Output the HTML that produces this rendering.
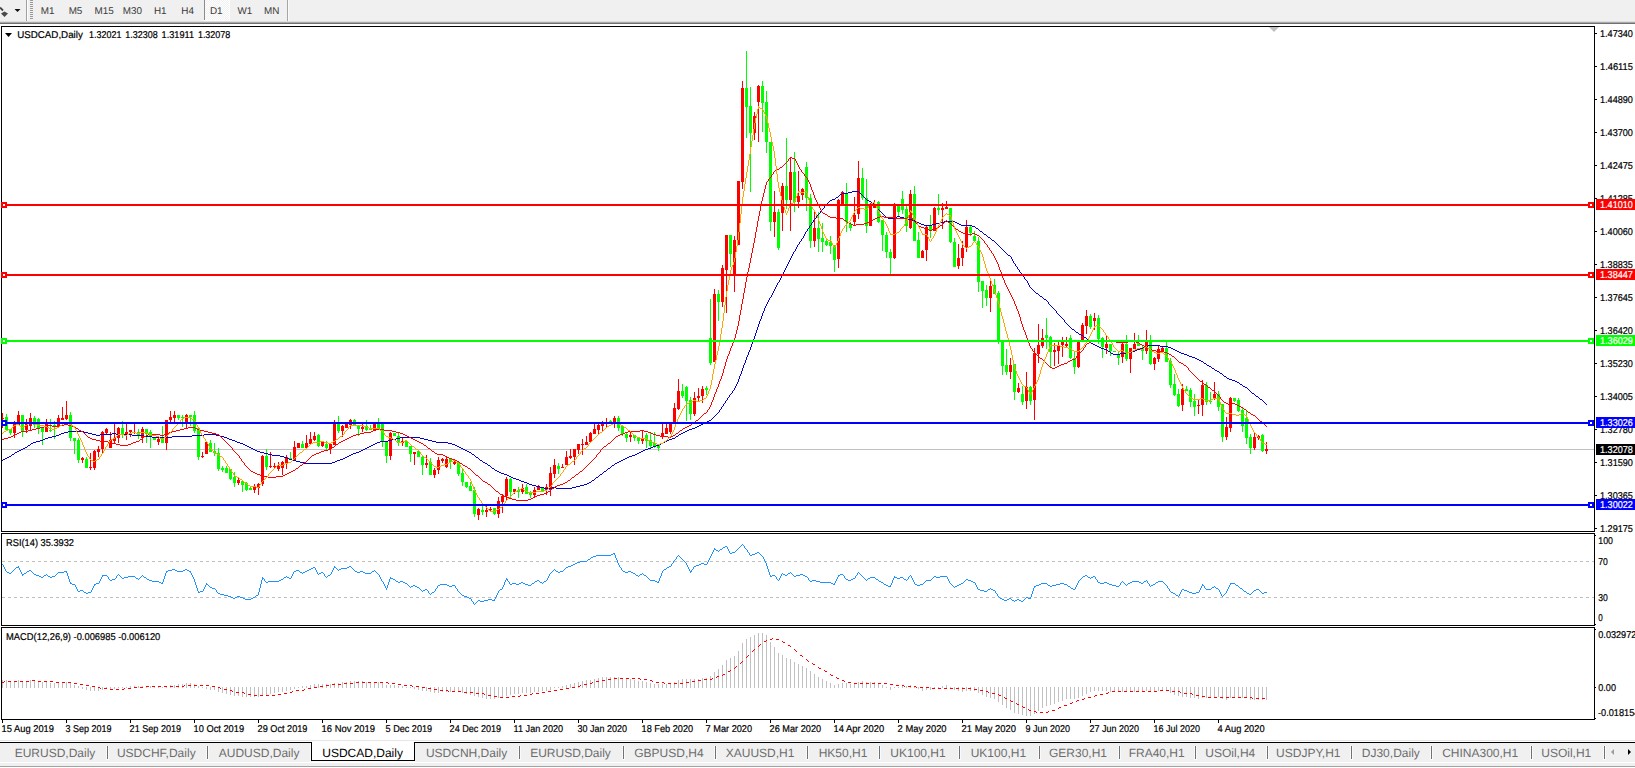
<!DOCTYPE html>
<html lang="en"><head><meta charset="utf-8"><title>USDCAD,Daily</title>
<style>html,body{margin:0;padding:0;background:#fff;overflow:hidden}svg text{white-space:pre}</style></head>
<body>
<svg width="1635" height="768" viewBox="0 0 1635 768" font-family="'Liberation Sans', sans-serif" text-rendering="geometricPrecision" style="display:block">
<rect x="0" y="0" width="1635" height="768" fill="#fff" />
<rect x="0" y="0" width="1635" height="22" fill="#f0f0f0" />
<rect x="0" y="21" width="1635" height="1" fill="#dedede" />
<rect x="0" y="22" width="1635" height="1" fill="#a8a8a8" />
<rect x="0" y="23" width="1635" height="1" fill="#707070" />
<path d="M0 7.5 L3 10.5" stroke="#444" stroke-width="1.8" fill="none"/>
<path d="M1 13.5 L4.5 11.5 L8 13.5 L4.5 17 Z" fill="#4a4a4a"/>
<path d="M14.5 9 L20.5 9 L17.5 12 Z" fill="#111"/>
<rect x="26" y="0" width="1" height="21" fill="#a0a0a0" />
<rect x="27" y="0" width="1" height="21" fill="#fdfdfd" />
<rect x="30" y="0" width="3" height="1" fill="#9a9a9a" />
<rect x="30" y="2" width="3" height="1" fill="#9a9a9a" />
<rect x="30" y="4" width="3" height="1" fill="#9a9a9a" />
<rect x="30" y="6" width="3" height="1" fill="#9a9a9a" />
<rect x="30" y="8" width="3" height="1" fill="#9a9a9a" />
<rect x="30" y="10" width="3" height="1" fill="#9a9a9a" />
<rect x="30" y="12" width="3" height="1" fill="#9a9a9a" />
<rect x="30" y="14" width="3" height="1" fill="#9a9a9a" />
<rect x="30" y="16" width="3" height="1" fill="#9a9a9a" />
<rect x="30" y="18" width="3" height="1" fill="#9a9a9a" />
<defs><pattern id="chk" width="2" height="2" patternUnits="userSpaceOnUse"><rect width="2" height="2" fill="#f0f0f0"/><rect width="1" height="1" fill="#fff"/><rect x="1" y="1" width="1" height="1" fill="#fff"/></pattern></defs>
<rect x="205" y="0" width="24" height="20" fill="url(#chk)" />
<rect x="204" y="0" width="1" height="20" fill="#8c8c8c" />
<rect x="229" y="0" width="1" height="21" fill="#fcfcfc" />
<rect x="204" y="20" width="26" height="1" fill="#fcfcfc" />
<rect x="287" y="0" width="1" height="21" fill="#a6a6a6" />
<rect x="288" y="0" width="1" height="21" fill="#fafafa" />
<text x="47.7" y="13.9" font-size="9.9" fill="#3a3a3a" text-anchor="middle" >M1</text>
<text x="75.5" y="13.9" font-size="9.9" fill="#3a3a3a" text-anchor="middle" >M5</text>
<text x="104.1" y="13.9" font-size="9.9" fill="#3a3a3a" text-anchor="middle" >M15</text>
<text x="132.3" y="13.9" font-size="9.9" fill="#3a3a3a" text-anchor="middle" >M30</text>
<text x="160.3" y="13.9" font-size="9.9" fill="#3a3a3a" text-anchor="middle" >H1</text>
<text x="187.6" y="13.9" font-size="9.9" fill="#3a3a3a" text-anchor="middle" >H4</text>
<text x="216.2" y="13.9" font-size="9.9" fill="#3a3a3a" text-anchor="middle" >D1</text>
<text x="244.8" y="13.9" font-size="9.9" fill="#3a3a3a" text-anchor="middle" >W1</text>
<text x="271.7" y="13.9" font-size="9.9" fill="#3a3a3a" text-anchor="middle" >MN</text>
<rect x="1" y="26" width="1594" height="1" fill="#000" />
<rect x="1" y="531" width="1594" height="1" fill="#000" />
<rect x="1" y="26" width="1" height="506" fill="#000" />
<rect x="1594" y="26" width="1" height="506" fill="#000" />
<rect x="1" y="533" width="1594" height="1" fill="#000" />
<rect x="1" y="625" width="1594" height="1" fill="#000" />
<rect x="1" y="533" width="1" height="93" fill="#000" />
<rect x="1594" y="533" width="1" height="93" fill="#000" />
<rect x="1" y="627" width="1594" height="1" fill="#000" />
<rect x="1" y="719" width="1594" height="1" fill="#000" />
<rect x="1" y="627" width="1" height="93" fill="#000" />
<rect x="1594" y="627" width="1" height="93" fill="#000" />
<path d="M1269 27 L1279 27 L1274 32 Z" fill="#c0c0c0"/>
<rect x="1595" y="33" width="2" height="1" fill="#000" />
<text x="1600" y="37" font-size="9.9" fill="#000" stroke="#000" stroke-width="0.2" textLength="32.94" lengthAdjust="spacingAndGlyphs">1.47340</text>
<rect x="1595" y="66" width="2" height="1" fill="#000" />
<text x="1600" y="70" font-size="9.9" fill="#000" stroke="#000" stroke-width="0.2" textLength="32.94" lengthAdjust="spacingAndGlyphs">1.46115</text>
<rect x="1595" y="99" width="2" height="1" fill="#000" />
<text x="1600" y="103" font-size="9.9" fill="#000" stroke="#000" stroke-width="0.2" textLength="32.94" lengthAdjust="spacingAndGlyphs">1.44890</text>
<rect x="1595" y="132" width="2" height="1" fill="#000" />
<text x="1600" y="136" font-size="9.9" fill="#000" stroke="#000" stroke-width="0.2" textLength="32.94" lengthAdjust="spacingAndGlyphs">1.43700</text>
<rect x="1595" y="165" width="2" height="1" fill="#000" />
<text x="1600" y="169" font-size="9.9" fill="#000" stroke="#000" stroke-width="0.2" textLength="32.94" lengthAdjust="spacingAndGlyphs">1.42475</text>
<rect x="1595" y="198" width="2" height="1" fill="#000" />
<text x="1600" y="202" font-size="9.9" fill="#000" stroke="#000" stroke-width="0.2" textLength="32.94" lengthAdjust="spacingAndGlyphs">1.41285</text>
<rect x="1595" y="231" width="2" height="1" fill="#000" />
<text x="1600" y="235" font-size="9.9" fill="#000" stroke="#000" stroke-width="0.2" textLength="32.94" lengthAdjust="spacingAndGlyphs">1.40060</text>
<rect x="1595" y="264" width="2" height="1" fill="#000" />
<text x="1600" y="268" font-size="9.9" fill="#000" stroke="#000" stroke-width="0.2" textLength="32.94" lengthAdjust="spacingAndGlyphs">1.38835</text>
<rect x="1595" y="297" width="2" height="1" fill="#000" />
<text x="1600" y="301" font-size="9.9" fill="#000" stroke="#000" stroke-width="0.2" textLength="32.94" lengthAdjust="spacingAndGlyphs">1.37645</text>
<rect x="1595" y="330" width="2" height="1" fill="#000" />
<text x="1600" y="334" font-size="9.9" fill="#000" stroke="#000" stroke-width="0.2" textLength="32.94" lengthAdjust="spacingAndGlyphs">1.36420</text>
<rect x="1595" y="363" width="2" height="1" fill="#000" />
<text x="1600" y="367" font-size="9.9" fill="#000" stroke="#000" stroke-width="0.2" textLength="32.94" lengthAdjust="spacingAndGlyphs">1.35230</text>
<rect x="1595" y="396" width="2" height="1" fill="#000" />
<text x="1600" y="400" font-size="9.9" fill="#000" stroke="#000" stroke-width="0.2" textLength="32.94" lengthAdjust="spacingAndGlyphs">1.34005</text>
<rect x="1595" y="429" width="2" height="1" fill="#000" />
<text x="1600" y="433" font-size="9.9" fill="#000" stroke="#000" stroke-width="0.2" textLength="32.94" lengthAdjust="spacingAndGlyphs">1.32780</text>
<rect x="1595" y="462" width="2" height="1" fill="#000" />
<text x="1600" y="466" font-size="9.9" fill="#000" stroke="#000" stroke-width="0.2" textLength="32.94" lengthAdjust="spacingAndGlyphs">1.31590</text>
<rect x="1595" y="495" width="2" height="1" fill="#000" />
<text x="1600" y="499" font-size="9.9" fill="#000" stroke="#000" stroke-width="0.2" textLength="32.94" lengthAdjust="spacingAndGlyphs">1.30365</text>
<rect x="1595" y="528" width="2" height="1" fill="#000" />
<text x="1600" y="532" font-size="9.9" fill="#000" stroke="#000" stroke-width="0.2" textLength="32.94" lengthAdjust="spacingAndGlyphs">1.29175</text>
<text x="1598.3" y="543.7" font-size="9.9" fill="#000" stroke="#000" stroke-width="0.2" textLength="14.67" lengthAdjust="spacingAndGlyphs">100</text>
<text x="1598.3" y="565" font-size="9.9" fill="#000" stroke="#000" stroke-width="0.2" textLength="9.58" lengthAdjust="spacingAndGlyphs">70</text>
<text x="1598.3" y="600.7" font-size="9.9" fill="#000" stroke="#000" stroke-width="0.2" textLength="9.58" lengthAdjust="spacingAndGlyphs">30</text>
<text x="1598.3" y="621" font-size="9.9" fill="#000" stroke="#000" stroke-width="0.2" textLength="4.49" lengthAdjust="spacingAndGlyphs">0</text>
<rect x="1595" y="535" width="1" height="1" fill="#000" />
<rect x="1595" y="624" width="1" height="1" fill="#000" />
<rect x="1595" y="629" width="1" height="1" fill="#000" />
<rect x="1595" y="687" width="1" height="1" fill="#000" />
<rect x="1595" y="718" width="1" height="1" fill="#000" />
<text x="1598.3" y="637.8" font-size="9.9" fill="#000" stroke="#000" stroke-width="0.2" textLength="38.029999999999994" lengthAdjust="spacingAndGlyphs">0.032972</text>
<text x="1598.3" y="690.6" font-size="9.9" fill="#000" stroke="#000" stroke-width="0.2" textLength="17.669999999999998" lengthAdjust="spacingAndGlyphs">0.00</text>
<text x="1598" y="715.8" font-size="9.9" fill="#000" stroke="#000" stroke-width="0.2" textLength="41.43" lengthAdjust="spacingAndGlyphs">-0.018154</text>
<g shape-rendering="crispEdges">
<rect x="2" y="449" width="1592" height="1" fill="#c0c0c0" />
<path fill="#00ff00" d="M6 414h1v16h-1z M5 417h3v13h-3z M10 429h1v6h-1z M9 429h3v4h-3z M22 415h1v22h-1z M21 415h3v16h-3z M34 416h1v12h-1z M33 418h3v7h-3z M38 418h1v16h-1z M37 419h3v9h-3z M42 427h1v18h-1z M41 427h3v5h-3z M50 419h1v13h-1z M49 430h3v1h-3z M54 421h1v18h-1z M53 425h3v2h-3z M70 412h1v29h-1z M69 415h3v23h-3z M74 438h1v16h-1z M73 438h3v3h-3z M78 438h1v25h-1z M77 440h3v20h-3z M86 457h1v11h-1z M85 459h3v9h-3z M122 421h1v17h-1z M121 428h3v7h-3z M138 429h1v10h-1z M137 432h3v4h-3z M146 429h1v14h-1z M145 429h3v5h-3z M150 430h1v18h-1z M149 432h3v5h-3z M154 437h1v3h-1z M153 437h3v3h-3z M162 426h1v17h-1z M161 439h3v4h-3z M178 415h1v5h-1z M177 415h3v3h-3z M182 415h1v12h-1z M181 417h3v1h-3z M190 415h1v11h-1z M189 415h3v2h-3z M194 411h1v22h-1z M193 415h3v16h-3z M198 428h1v32h-1z M197 428h3v29h-3z M210 440h1v12h-1z M209 443h3v9h-3z M214 443h1v13h-1z M213 451h3v2h-3z M218 448h1v23h-1z M217 453h3v16h-3z M222 466h1v6h-1z M221 468h3v2h-3z M226 466h1v7h-1z M225 468h3v5h-3z M230 469h1v11h-1z M229 469h3v10h-3z M234 472h1v15h-1z M233 477h3v6h-3z M242 480h1v12h-1z M241 481h3v4h-3z M246 482h1v9h-1z M245 483h3v7h-3z M250 486h1v4h-1z M249 488h3v2h-3z M266 449h1v21h-1z M265 456h3v11h-3z M290 452h1v8h-1z M289 458h3v2h-3z M302 441h1v7h-1z M301 444h3v4h-3z M318 434h1v13h-1z M317 435h3v11h-3z M326 441h1v9h-1z M325 444h3v4h-3z M338 416h1v17h-1z M337 424h3v7h-3z M354 419h1v7h-1z M353 420h3v6h-3z M358 426h1v10h-1z M357 426h3v3h-3z M366 420h1v11h-1z M365 426h3v4h-3z M370 425h1v5h-1z M369 428h3v2h-3z M378 418h1v11h-1z M377 424h3v5h-3z M382 424h1v23h-1z M381 424h3v17h-3z M386 441h1v22h-1z M385 441h3v15h-3z M394 433h1v3h-1z M393 433h3v3h-3z M398 433h1v13h-1z M397 436h3v7h-3z M406 441h1v6h-1z M405 441h3v6h-3z M410 446h1v16h-1z M409 446h3v8h-3z M418 451h1v6h-1z M417 451h3v6h-3z M422 455h1v20h-1z M421 457h3v8h-3z M430 458h1v17h-1z M429 462h3v13h-3z M450 459h1v10h-1z M449 459h3v3h-3z M458 462h1v14h-1z M457 462h3v12h-3z M462 469h1v17h-1z M461 473h3v9h-3z M466 482h1v6h-1z M465 482h3v5h-3z M470 482h1v9h-1z M469 486h3v5h-3z M474 487h1v30h-1z M473 490h3v24h-3z M482 504h1v11h-1z M481 510h3v2h-3z M494 508h1v7h-1z M493 508h3v6h-3z M510 478h1v20h-1z M509 479h3v13h-3z M518 487h1v11h-1z M517 490h3v2h-3z M526 484h1v10h-1z M525 487h3v7h-3z M530 491h1v7h-1z M529 493h3v2h-3z M542 487h1v4h-1z M541 488h3v3h-3z M558 463h1v11h-1z M557 466h3v3h-3z M610 420h1v4h-1z M609 421h3v2h-3z M618 416h1v15h-1z M617 418h3v10h-3z M622 426h1v10h-1z M621 426h3v8h-3z M626 432h1v10h-1z M625 434h3v4h-3z M634 435h1v6h-1z M633 435h3v3h-3z M638 438h1v6h-1z M637 438h3v3h-3z M646 433h1v15h-1z M645 435h3v6h-3z M650 433h1v16h-1z M649 440h3v6h-3z M654 432h1v16h-1z M653 443h3v3h-3z M658 445h1v6h-1z M657 445h3v3h-3z M682 384h1v14h-1z M681 391h3v5h-3z M686 386h1v35h-1z M685 387h3v14h-3z M690 397h1v23h-1z M689 400h3v14h-3z M706 386h1v9h-1z M705 388h3v2h-3z M710 299h1v66h-1z M709 338h3v25h-3z M718 290h1v31h-1z M717 294h3v8h-3z M730 235h1v32h-1z M729 235h3v19h-3z M746 51h1v87h-1z M745 88h3v19h-3z M750 87h1v105h-1z M749 106h3v27h-3z M762 81h1v51h-1z M761 86h3v17h-3z M766 91h1v62h-1z M765 102h3v40h-3z M770 142h1v89h-1z M769 142h3v80h-3z M778 209h1v41h-1z M777 212h3v36h-3z M786 138h1v71h-1z M785 186h3v14h-3z M794 152h1v60h-1z M793 172h3v30h-3z M806 162h1v49h-1z M805 167h3v31h-3z M810 194h1v54h-1z M809 198h3v43h-3z M818 212h1v40h-1z M817 228h3v11h-3z M822 223h1v29h-1z M821 238h3v4h-3z M826 240h1v6h-1z M825 241h3v4h-3z M830 236h1v18h-1z M829 242h3v4h-3z M834 245h1v27h-1z M833 245h3v15h-3z M846 183h1v49h-1z M845 193h3v29h-3z M850 222h1v9h-1z M849 224h3v4h-3z M862 168h1v32h-1z M861 178h3v20h-3z M866 179h1v54h-1z M865 198h3v28h-3z M878 201h1v22h-1z M877 202h3v20h-3z M882 220h1v31h-1z M881 220h3v15h-3z M886 232h1v26h-1z M885 235h3v17h-3z M890 249h1v25h-1z M889 252h3v6h-3z M898 206h1v11h-1z M897 206h3v6h-3z M902 191h1v23h-1z M901 199h3v11h-3z M906 206h1v26h-1z M905 209h3v17h-3z M914 186h1v55h-1z M913 194h3v47h-3z M918 232h1v26h-1z M917 240h3v18h-3z M930 215h1v23h-1z M929 225h3v5h-3z M938 194h1v21h-1z M937 208h3v2h-3z M950 208h1v35h-1z M949 208h3v34h-3z M954 238h1v29h-1z M953 242h3v25h-3z M970 226h1v10h-1z M969 227h3v6h-3z M974 231h1v11h-1z M973 236h3v5h-3z M978 237h1v55h-1z M977 241h3v41h-3z M982 281h1v27h-1z M981 281h3v10h-3z M986 285h1v21h-1z M985 290h3v8h-3z M994 279h1v15h-1z M993 285h3v9h-3z M998 291h1v53h-1z M997 293h3v47h-3z M1002 340h1v35h-1z M1001 340h3v26h-3z M1006 349h1v26h-1z M1005 365h3v7h-3z M1014 364h1v36h-1z M1013 364h3v28h-3z M1022 386h1v19h-1z M1021 394h3v8h-3z M1030 386h1v19h-1z M1029 387h3v14h-3z M1046 318h1v31h-1z M1045 335h3v3h-3z M1050 336h1v32h-1z M1049 337h3v15h-3z M1070 335h1v24h-1z M1069 338h3v20h-3z M1074 351h1v23h-1z M1073 358h3v9h-3z M1090 314h1v15h-1z M1089 316h3v11h-3z M1098 315h1v29h-1z M1097 318h3v21h-3z M1102 337h1v21h-1z M1101 338h3v9h-3z M1110 344h1v12h-1z M1109 344h3v7h-3z M1114 351h1v1h-1z M1113 351h3v1h-3z M1118 352h1v13h-1z M1117 354h3v4h-3z M1126 335h1v26h-1z M1125 344h3v15h-3z M1138 335h1v11h-1z M1137 343h3v3h-3z M1142 345h1v15h-1z M1141 348h3v3h-3z M1150 335h1v30h-1z M1149 342h3v22h-3z M1166 342h1v20h-1z M1165 348h3v14h-3z M1170 358h1v30h-1z M1169 361h3v24h-3z M1174 374h1v22h-1z M1173 384h3v11h-3z M1178 389h1v18h-1z M1177 394h3v12h-3z M1186 386h1v5h-1z M1185 389h3v2h-3z M1190 388h1v19h-1z M1189 390h3v12h-3z M1194 394h1v22h-1z M1193 401h3v6h-3z M1206 382h1v23h-1z M1205 385h3v17h-3z M1210 392h1v12h-1z M1209 401h3v1h-3z M1218 391h1v20h-1z M1217 394h3v13h-3z M1222 404h1v38h-1z M1221 404h3v33h-3z M1234 398h1v4h-1z M1233 398h3v3h-3z M1238 398h1v14h-1z M1237 400h3v11h-3z M1242 408h1v24h-1z M1241 410h3v16h-3z M1246 411h1v33h-1z M1245 418h3v20h-3z M1250 434h1v20h-1z M1249 437h3v11h-3z M1262 434h1v18h-1z M1261 435h3v16h-3z"/>
<path fill="#ff0000" d="M2 413h1v15h-1z M1 418h3v1h-3z M14 421h1v17h-1z M13 424h3v9h-3z M18 411h1v14h-1z M17 415h3v10h-3z M26 419h1v14h-1z M25 423h3v7h-3z M30 413h1v17h-1z M29 418h3v8h-3z M46 419h1v13h-1z M45 424h3v8h-3z M58 415h1v12h-1z M57 418h3v9h-3z M62 407h1v13h-1z M61 418h3v2h-3z M66 401h1v19h-1z M65 415h3v4h-3z M82 457h1v6h-1z M81 458h3v2h-3z M90 453h1v17h-1z M89 467h3v1h-3z M94 450h1v20h-1z M93 451h3v17h-3z M98 446h1v11h-1z M97 449h3v3h-3z M102 431h1v22h-1z M101 432h3v17h-3z M106 428h1v7h-1z M105 429h3v4h-3z M110 432h1v16h-1z M109 440h3v8h-3z M114 424h1v19h-1z M113 438h3v3h-3z M118 427h1v16h-1z M117 428h3v10h-3z M126 424h1v16h-1z M125 432h3v3h-3z M130 430h1v7h-1z M129 430h3v2h-3z M134 424h1v10h-1z M133 432h3v1h-3z M142 427h1v16h-1z M141 429h3v9h-3z M158 437h1v8h-1z M157 439h3v3h-3z M166 420h1v30h-1z M165 420h3v23h-3z M170 411h1v11h-1z M169 417h3v3h-3z M174 411h1v13h-1z M173 415h3v3h-3z M186 414h1v14h-1z M185 415h3v8h-3z M202 452h1v6h-1z M201 456h3v1h-3z M206 441h1v13h-1z M205 442h3v12h-3z M238 477h1v8h-1z M237 480h3v3h-3z M254 484h1v9h-1z M253 487h3v3h-3z M258 483h1v12h-1z M257 484h3v4h-3z M262 455h1v31h-1z M261 456h3v28h-3z M270 452h1v16h-1z M269 466h3v1h-3z M274 463h1v5h-1z M273 466h3v1h-3z M278 462h1v9h-1z M277 466h3v3h-3z M282 461h1v14h-1z M281 462h3v6h-3z M286 455h1v14h-1z M285 457h3v7h-3z M294 441h1v19h-1z M293 447h3v13h-3z M298 443h1v5h-1z M297 443h3v5h-3z M306 435h1v13h-1z M305 443h3v5h-3z M310 432h1v12h-1z M309 439h3v5h-3z M314 432h1v9h-1z M313 436h3v4h-3z M322 441h1v6h-1z M321 441h3v5h-3z M330 444h1v10h-1z M329 444h3v5h-3z M334 420h1v25h-1z M333 424h3v21h-3z M342 425h1v12h-1z M341 426h3v5h-3z M346 424h1v4h-1z M345 424h3v4h-3z M350 419h1v10h-1z M349 420h3v5h-3z M362 424h1v8h-1z M361 427h3v2h-3z M374 424h1v7h-1z M373 424h3v7h-3z M390 432h1v28h-1z M389 433h3v23h-3z M402 438h1v8h-1z M401 441h3v2h-3z M414 452h1v13h-1z M413 452h3v2h-3z M426 455h1v13h-1z M425 463h3v2h-3z M434 468h1v10h-1z M433 470h3v5h-3z M438 457h1v17h-1z M437 460h3v10h-3z M442 458h1v5h-1z M441 459h3v2h-3z M446 457h1v11h-1z M445 459h3v8h-3z M454 460h1v5h-1z M453 462h3v2h-3z M478 508h1v12h-1z M477 509h3v6h-3z M486 506h1v11h-1z M485 510h3v2h-3z M490 507h1v5h-1z M489 509h3v1h-3z M498 497h1v21h-1z M497 501h3v13h-3z M502 494h1v19h-1z M501 496h3v6h-3z M506 477h1v23h-1z M505 479h3v17h-3z M514 489h1v5h-1z M513 489h3v3h-3z M522 484h1v10h-1z M521 488h3v4h-3z M534 487h1v10h-1z M533 490h3v5h-3z M538 485h1v5h-1z M537 487h3v3h-3z M546 484h1v11h-1z M545 487h3v3h-3z M550 467h1v29h-1z M549 473h3v17h-3z M554 459h1v19h-1z M553 465h3v9h-3z M562 464h1v4h-1z M561 467h3v1h-3z M566 451h1v14h-1z M565 457h3v8h-3z M570 449h1v10h-1z M569 456h3v2h-3z M574 449h1v16h-1z M573 449h3v8h-3z M578 444h1v10h-1z M577 444h3v6h-3z M582 439h1v16h-1z M581 444h3v1h-3z M586 436h1v9h-1z M585 442h3v3h-3z M590 432h1v10h-1z M589 433h3v9h-3z M594 424h1v10h-1z M593 429h3v5h-3z M598 424h1v10h-1z M597 425h3v5h-3z M602 421h1v10h-1z M601 424h3v2h-3z M606 418h1v9h-1z M605 423h3v1h-3z M614 416h1v12h-1z M613 418h3v5h-3z M630 431h1v11h-1z M629 435h3v2h-3z M642 430h1v14h-1z M641 438h3v3h-3z M662 423h1v16h-1z M661 433h3v4h-3z M666 423h1v11h-1z M665 428h3v6h-3z M670 423h1v11h-1z M669 423h3v9h-3z M674 403h1v20h-1z M673 408h3v15h-3z M678 379h1v31h-1z M677 391h3v18h-3z M694 392h1v24h-1z M693 398h3v16h-3z M698 388h1v13h-1z M697 396h3v2h-3z M702 386h1v17h-1z M701 389h3v7h-3z M714 289h1v73h-1z M713 294h3v68h-3z M722 265h1v42h-1z M721 268h3v34h-3z M726 235h1v78h-1z M725 235h3v35h-3z M734 236h1v56h-1z M733 240h3v34h-3z M738 181h1v64h-1z M737 181h3v64h-3z M742 81h1v108h-1z M741 88h3v94h-3z M754 112h1v28h-1z M753 116h3v17h-3z M758 85h1v57h-1z M757 86h3v16h-3z M774 191h1v46h-1z M773 212h3v10h-3z M782 183h1v48h-1z M781 186h3v27h-3z M790 158h1v73h-1z M789 172h3v28h-3z M798 171h1v37h-1z M797 196h3v6h-3z M802 188h1v12h-1z M801 189h3v6h-3z M814 212h1v35h-1z M813 228h3v13h-3z M838 199h1v69h-1z M837 200h3v59h-3z M842 191h1v14h-1z M841 192h3v13h-3z M854 197h1v29h-1z M853 215h3v7h-3z M858 161h1v58h-1z M857 178h3v36h-3z M870 203h1v23h-1z M869 205h3v21h-3z M874 200h1v8h-1z M873 204h3v4h-3z M894 203h1v56h-1z M893 205h3v53h-3z M910 190h1v39h-1z M909 194h3v34h-3z M922 250h1v8h-1z M921 251h3v7h-3z M926 226h1v35h-1z M925 227h3v23h-3z M934 207h1v24h-1z M933 208h3v23h-3z M942 203h1v26h-1z M941 208h3v2h-3z M946 201h1v8h-1z M945 207h3v2h-3z M958 244h1v25h-1z M957 258h3v8h-3z M962 241h1v25h-1z M961 248h3v10h-3z M966 220h1v32h-1z M965 227h3v20h-3z M990 280h1v32h-1z M989 286h3v12h-3z M1010 358h1v21h-1z M1009 365h3v7h-3z M1018 383h1v10h-1z M1017 388h3v4h-3z M1026 372h1v37h-1z M1025 387h3v14h-3z M1034 348h1v72h-1z M1033 353h3v47h-3z M1038 324h1v39h-1z M1037 345h3v9h-3z M1042 329h1v19h-1z M1041 338h3v8h-3z M1054 343h1v23h-1z M1053 350h3v2h-3z M1058 342h1v22h-1z M1057 345h3v6h-3z M1062 337h1v20h-1z M1061 342h3v3h-3z M1066 337h1v10h-1z M1065 344h3v2h-3z M1078 342h1v26h-1z M1077 342h3v25h-3z M1082 323h1v19h-1z M1081 325h3v17h-3z M1086 310h1v24h-1z M1085 316h3v10h-3z M1094 313h1v17h-1z M1093 318h3v3h-3z M1106 336h1v18h-1z M1105 344h3v4h-3z M1122 343h1v20h-1z M1121 344h3v13h-3z M1130 348h1v25h-1z M1129 348h3v11h-3z M1134 333h1v16h-1z M1133 344h3v5h-3z M1146 330h1v24h-1z M1145 342h3v9h-3z M1154 357h1v13h-1z M1153 358h3v6h-3z M1158 346h1v16h-1z M1157 349h3v10h-3z M1162 347h1v4h-1z M1161 348h3v3h-3z M1182 384h1v27h-1z M1181 389h3v16h-3z M1198 400h1v14h-1z M1197 405h3v1h-3z M1202 380h1v36h-1z M1201 385h3v20h-3z M1214 382h1v18h-1z M1213 394h3v4h-3z M1226 417h1v23h-1z M1225 427h3v10h-3z M1230 397h1v35h-1z M1229 398h3v30h-3z M1254 432h1v18h-1z M1253 437h3v11h-3z M1258 435h1v5h-1z M1257 436h3v2h-3z M1266 442h1v12h-1z M1265 449h3v2h-3z"/>
<path fill="#0000c8" d="M852 191h7v1h-7z M848 192h4v1h-4z M859 192h1v1h-1z M842 193h6v1h-6z M860 193h1v1h-1z M840 194h2v1h-2z M861 194h1v1h-1z M839 195h1v1h-1z M862 195h1v1h-1z M838 196h1v1h-1z M863 196h1v1h-1z M836 197h2v1h-2z M864 197h1v1h-1z M835 198h1v1h-1z M865 198h1v1h-1z M832 199h3v1h-3z M866 199h1v1h-1z M830 200h2v1h-2z M867 200h2v1h-2z M829 201h1v1h-1z M869 201h2v1h-2z M828 202h1v1h-1z M871 202h1v1h-1z M827 203h1v1h-1z M872 203h2v1h-2z M826 204h1v1h-1z M874 204h1v1h-1z M825 205h1v1h-1z M875 205h1v1h-1z M824 206h1v2h-1z M876 206h1v2h-1z M823 208h1v1h-1z M877 208h1v1h-1z M822 209h1v1h-1z M878 209h1v1h-1z M821 210h1v1h-1z M879 210h1v1h-1z M820 211h1v2h-1z M880 211h1v1h-1z M881 212h1v1h-1z M819 213h1v1h-1z M882 213h1v1h-1z M818 214h1v1h-1z M883 214h1v1h-1z M817 215h1v1h-1z M884 215h1v1h-1z M816 216h1v2h-1z M885 216h1v1h-1z M897 216h3v1h-3z M886 217h2v1h-2z M895 217h2v1h-2z M900 217h4v1h-4z M815 218h1v1h-1z M888 218h7v1h-7z M904 218h4v1h-4z M814 219h1v1h-1z M908 219h4v1h-4z M813 220h1v2h-1z M912 220h3v1h-3z M915 221h2v1h-2z M944 221h11v1h-11z M812 222h1v1h-1z M917 222h2v1h-2z M940 222h4v1h-4z M955 222h2v1h-2z M811 223h1v2h-1z M919 223h2v1h-2z M936 223h4v1h-4z M957 223h2v1h-2z M921 224h3v1h-3z M932 224h4v1h-4z M959 224h2v1h-2z M810 225h1v1h-1z M924 225h8v1h-8z M961 225h11v1h-11z M809 226h1v2h-1z M972 226h3v1h-3z M975 227h1v1h-1z M808 228h1v1h-1z M976 228h2v1h-2z M807 229h1v2h-1z M978 229h1v1h-1z M979 230h1v1h-1z M806 231h1v1h-1z M980 231h2v1h-2z M805 232h1v2h-1z M982 232h1v1h-1z M983 233h1v1h-1z M804 234h1v2h-1z M984 234h2v1h-2z M986 235h1v1h-1z M803 236h1v2h-1z M987 236h1v1h-1z M988 237h2v1h-2z M802 238h1v1h-1z M990 238h1v1h-1z M801 239h1v2h-1z M991 239h1v1h-1z M992 240h2v1h-2z M800 241h1v1h-1z M994 241h1v1h-1z M799 242h1v2h-1z M995 242h1v1h-1z M996 243h1v1h-1z M798 244h1v1h-1z M997 244h1v1h-1z M797 245h1v2h-1z M998 245h1v1h-1z M999 246h1v1h-1z M796 247h1v2h-1z M1000 247h1v1h-1z M1001 248h1v1h-1z M795 249h1v2h-1z M1002 249h1v1h-1z M1003 250h1v1h-1z M794 251h1v1h-1z M1004 251h1v1h-1z M793 252h1v2h-1z M1005 252h1v1h-1z M1006 253h1v1h-1z M792 254h1v2h-1z M1007 254h1v1h-1z M1008 255h2v1h-2z M791 256h1v2h-1z M1010 256h1v1h-1z M1011 257h1v2h-1z M790 258h1v2h-1z M1012 259h1v2h-1z M789 260h1v2h-1z M1013 261h1v2h-1z M788 262h1v2h-1z M1014 263h1v1h-1z M787 264h1v2h-1z M1015 264h1v2h-1z M786 266h1v2h-1z M1016 266h1v1h-1z M1017 267h1v2h-1z M785 268h1v2h-1z M1018 269h1v1h-1z M784 270h1v2h-1z M1019 270h1v2h-1z M783 272h1v2h-1z M1020 272h1v1h-1z M1021 273h1v2h-1z M782 274h1v2h-1z M1022 275h1v1h-1z M781 276h1v2h-1z M1023 276h1v1h-1z M1024 277h1v2h-1z M780 278h1v2h-1z M1025 279h1v1h-1z M779 280h1v2h-1z M1026 280h1v1h-1z M1027 281h1v2h-1z M778 282h1v1h-1z M777 283h1v2h-1z M1028 283h1v2h-1z M776 285h1v2h-1z M1029 285h1v2h-1z M775 287h1v2h-1z M1030 287h1v1h-1z M1031 288h1v1h-1z M774 289h1v2h-1z M1032 289h1v1h-1z M1033 290h1v1h-1z M773 291h1v2h-1z M1034 291h1v1h-1z M1035 292h1v1h-1z M772 293h1v2h-1z M1036 293h2v1h-2z M1038 294h1v1h-1z M771 295h1v2h-1z M1039 295h1v1h-1z M1040 296h2v1h-2z M770 297h1v1h-1z M1042 297h1v1h-1z M769 298h1v2h-1z M1043 298h1v1h-1z M1044 299h2v1h-2z M768 300h1v2h-1z M1046 300h1v1h-1z M1047 301h1v1h-1z M767 302h1v2h-1z M1048 302h1v2h-1z M766 304h1v2h-1z M1049 304h1v1h-1z M1050 305h1v1h-1z M765 306h1v2h-1z M1051 306h1v1h-1z M1052 307h1v1h-1z M764 308h1v3h-1z M1053 308h1v1h-1z M1054 309h1v1h-1z M1055 310h1v1h-1z M763 311h1v2h-1z M1056 311h1v2h-1z M762 313h1v3h-1z M1057 313h1v1h-1z M1058 314h1v1h-1z M1059 315h1v1h-1z M761 316h1v3h-1z M1060 316h1v1h-1z M1061 317h1v1h-1z M1062 318h1v1h-1z M760 319h1v2h-1z M1063 319h1v1h-1z M1064 320h1v2h-1z M759 321h1v3h-1z M1065 322h1v1h-1z M1066 323h1v1h-1z M758 324h1v3h-1z M1067 324h1v1h-1z M1068 325h1v1h-1z M1069 326h1v1h-1z M757 327h1v3h-1z M1070 327h1v1h-1z M1071 328h1v1h-1z M1072 329h2v1h-2z M756 330h1v3h-1z M1074 330h1v1h-1z M1075 331h1v1h-1z M1076 332h2v1h-2z M755 333h1v3h-1z M1078 333h1v1h-1z M1079 334h2v1h-2z M1081 335h2v1h-2z M754 336h1v3h-1z M1083 336h1v1h-1z M1084 337h2v1h-2z M1086 338h1v1h-1z M753 339h1v3h-1z M1087 339h1v1h-1z M1088 340h1v1h-1z M1089 341h1v1h-1z M752 342h1v2h-1z M1090 342h1v1h-1z M1091 343h2v1h-2z M751 344h1v3h-1z M1093 344h2v1h-2z M1095 345h2v1h-2z M1148 345h12v1h-12z M1097 346h2v1h-2z M1145 346h3v1h-3z M1160 346h8v1h-8z M750 347h1v3h-1z M1099 347h2v1h-2z M1143 347h2v1h-2z M1168 347h3v1h-3z M1101 348h3v1h-3z M1140 348h3v1h-3z M1171 348h2v1h-2z M1104 349h3v1h-3z M1137 349h3v1h-3z M1173 349h2v1h-2z M749 350h1v2h-1z M1107 350h1v1h-1z M1135 350h2v1h-2z M1175 350h2v1h-2z M1108 351h2v1h-2z M1132 351h3v1h-3z M1177 351h2v1h-2z M748 352h1v3h-1z M1110 352h1v1h-1z M1128 352h4v1h-4z M1179 352h2v1h-2z M1111 353h2v1h-2z M1120 353h8v1h-8z M1181 353h3v1h-3z M1113 354h7v1h-7z M1184 354h3v1h-3z M747 355h1v2h-1z M1187 355h2v1h-2z M1189 356h3v1h-3z M746 357h1v3h-1z M1192 357h3v1h-3z M1195 358h2v1h-2z M1197 359h2v1h-2z M745 360h1v3h-1z M1199 360h2v1h-2z M1201 361h2v1h-2z M1203 362h1v1h-1z M744 363h1v2h-1z M1204 363h2v1h-2z M1206 364h1v1h-1z M743 365h1v3h-1z M1207 365h2v1h-2z M1209 366h2v1h-2z M1211 367h1v1h-1z M742 368h1v3h-1z M1212 368h2v1h-2z M1214 369h1v1h-1z M1215 370h2v1h-2z M741 371h1v3h-1z M1217 371h2v1h-2z M1219 372h1v1h-1z M1220 373h2v1h-2z M740 374h1v2h-1z M1222 374h1v1h-1z M1223 375h1v1h-1z M739 376h1v3h-1z M1224 376h2v1h-2z M1226 377h1v1h-1z M1227 378h2v1h-2z M738 379h1v3h-1z M1229 379h3v1h-3z M1232 380h3v1h-3z M1235 381h2v1h-2z M737 382h1v2h-1z M1237 382h2v1h-2z M1239 383h1v1h-1z M736 384h1v2h-1z M1240 384h2v1h-2z M1242 385h1v1h-1z M735 386h1v2h-1z M1243 386h2v1h-2z M1245 387h2v1h-2z M734 388h1v2h-1z M1247 388h1v1h-1z M1248 389h1v1h-1z M733 390h1v1h-1z M1249 390h1v1h-1z M732 391h1v2h-1z M1250 391h1v1h-1z M1251 392h1v1h-1z M731 393h1v1h-1z M1252 393h2v1h-2z M730 394h1v1h-1z M1254 394h1v1h-1z M729 395h1v2h-1z M1255 395h1v1h-1z M1256 396h2v1h-2z M728 397h1v1h-1z M1258 397h1v1h-1z M727 398h1v2h-1z M1259 398h1v1h-1z M1260 399h2v1h-2z M726 400h1v1h-1z M1262 400h1v1h-1z M725 401h1v2h-1z M1263 401h1v1h-1z M1264 402h1v1h-1z M724 403h1v1h-1z M1265 403h1v1h-1z M723 404h1v2h-1z M1266 404h1v1h-1z M722 406h1v1h-1z M721 407h1v2h-1z M720 409h1v1h-1z M719 410h1v2h-1z M718 412h1v1h-1z M717 413h1v1h-1z M716 414h1v1h-1z M715 415h1v1h-1z M714 416h1v1h-1z M713 417h1v1h-1z M712 418h1v1h-1z M711 419h1v1h-1z M709 420h2v1h-2z M707 421h2v1h-2z M705 422h2v1h-2z M703 423h2v1h-2z M701 424h2v1h-2z M699 425h2v1h-2z M697 426h2v1h-2z M695 427h2v1h-2z M692 428h3v1h-3z M689 429h3v1h-3z M687 430h2v1h-2z M68 431h16v1h-16z M685 431h2v1h-2z M64 432h4v1h-4z M84 432h4v1h-4z M683 432h2v1h-2z M61 433h3v1h-3z M88 433h4v1h-4z M112 433h4v1h-4z M681 433h2v1h-2z M59 434h2v1h-2z M92 434h4v1h-4z M100 434h12v1h-12z M116 434h16v1h-16z M204 434h12v1h-12z M679 434h2v1h-2z M56 435h3v1h-3z M96 435h4v1h-4z M132 435h12v1h-12z M192 435h12v1h-12z M216 435h4v1h-4z M678 435h1v1h-1z M52 436h4v1h-4z M144 436h8v1h-8z M172 436h20v1h-20z M220 436h4v1h-4z M676 436h2v1h-2z M48 437h4v1h-4z M152 437h20v1h-20z M224 437h3v1h-3z M400 437h20v1h-20z M675 437h1v1h-1z M45 438h3v1h-3z M227 438h2v1h-2z M396 438h4v1h-4z M420 438h4v1h-4z M672 438h3v1h-3z M43 439h2v1h-2z M229 439h3v1h-3z M392 439h4v1h-4z M424 439h4v1h-4z M669 439h3v1h-3z M40 440h3v1h-3z M232 440h3v1h-3z M388 440h4v1h-4z M428 440h4v1h-4z M667 440h2v1h-2z M36 441h4v1h-4z M235 441h2v1h-2z M380 441h8v1h-8z M432 441h4v1h-4z M665 441h2v1h-2z M33 442h3v1h-3z M237 442h3v1h-3z M377 442h3v1h-3z M436 442h12v1h-12z M663 442h2v1h-2z M31 443h2v1h-2z M240 443h3v1h-3z M375 443h2v1h-2z M448 443h4v1h-4z M661 443h2v1h-2z M30 444h1v1h-1z M243 444h2v1h-2z M373 444h2v1h-2z M452 444h3v1h-3z M659 444h2v1h-2z M28 445h2v1h-2z M245 445h2v1h-2z M371 445h2v1h-2z M455 445h2v1h-2z M656 445h3v1h-3z M27 446h1v1h-1z M247 446h2v1h-2z M369 446h2v1h-2z M457 446h2v1h-2z M653 446h3v1h-3z M25 447h2v1h-2z M249 447h2v1h-2z M367 447h2v1h-2z M459 447h2v1h-2z M651 447h2v1h-2z M23 448h2v1h-2z M251 448h2v1h-2z M365 448h2v1h-2z M461 448h2v1h-2z M648 448h3v1h-3z M21 449h2v1h-2z M253 449h2v1h-2z M363 449h2v1h-2z M463 449h2v1h-2z M645 449h3v1h-3z M19 450h2v1h-2z M255 450h2v1h-2z M361 450h2v1h-2z M465 450h2v1h-2z M643 450h2v1h-2z M17 451h2v1h-2z M257 451h3v1h-3z M359 451h2v1h-2z M467 451h2v1h-2z M641 451h2v1h-2z M15 452h2v1h-2z M260 452h4v1h-4z M356 452h3v1h-3z M469 452h2v1h-2z M639 452h2v1h-2z M14 453h1v1h-1z M264 453h4v1h-4z M353 453h3v1h-3z M471 453h1v1h-1z M637 453h2v1h-2z M12 454h2v1h-2z M268 454h4v1h-4z M351 454h2v1h-2z M472 454h2v1h-2z M635 454h2v1h-2z M11 455h1v1h-1z M272 455h8v1h-8z M349 455h2v1h-2z M474 455h1v1h-1z M632 455h3v1h-3z M9 456h2v1h-2z M280 456h4v1h-4z M347 456h2v1h-2z M475 456h1v1h-1z M629 456h3v1h-3z M7 457h2v1h-2z M284 457h3v1h-3z M345 457h2v1h-2z M476 457h2v1h-2z M627 457h2v1h-2z M5 458h2v1h-2z M287 458h2v1h-2z M343 458h2v1h-2z M478 458h1v1h-1z M625 458h2v1h-2z M3 459h2v1h-2z M289 459h3v1h-3z M340 459h3v1h-3z M479 459h1v1h-1z M623 459h2v1h-2z M2 460h1v1h-1z M292 460h4v1h-4z M337 460h3v1h-3z M480 460h2v1h-2z M621 460h2v1h-2z M296 461h4v1h-4z M335 461h2v1h-2z M482 461h1v1h-1z M619 461h2v1h-2z M300 462h4v1h-4z M332 462h3v1h-3z M483 462h2v1h-2z M617 462h2v1h-2z M304 463h28v1h-28z M485 463h2v1h-2z M615 463h2v1h-2z M487 464h1v1h-1z M614 464h1v1h-1z M488 465h2v1h-2z M612 465h2v1h-2z M490 466h1v1h-1z M611 466h1v1h-1z M491 467h1v1h-1z M610 467h1v1h-1z M492 468h2v1h-2z M608 468h2v1h-2z M494 469h1v1h-1z M607 469h1v1h-1z M495 470h2v1h-2z M606 470h1v1h-1z M497 471h2v1h-2z M604 471h2v1h-2z M499 472h2v1h-2z M603 472h1v1h-1z M501 473h3v1h-3z M602 473h1v1h-1z M504 474h3v1h-3z M600 474h2v1h-2z M507 475h2v1h-2z M599 475h1v1h-1z M509 476h2v1h-2z M598 476h1v1h-1z M511 477h2v1h-2z M596 477h2v1h-2z M513 478h3v1h-3z M595 478h1v1h-1z M516 479h3v1h-3z M594 479h1v1h-1z M519 480h2v1h-2z M592 480h2v1h-2z M521 481h3v1h-3z M591 481h1v1h-1z M524 482h3v1h-3z M589 482h2v1h-2z M527 483h2v1h-2z M587 483h2v1h-2z M529 484h3v1h-3z M584 484h3v1h-3z M532 485h4v1h-4z M580 485h4v1h-4z M536 486h4v1h-4z M576 486h4v1h-4z M540 487h4v1h-4z M552 487h4v1h-4z M572 487h4v1h-4z M544 488h8v1h-8z M556 488h16v1h-16z"/>
<path fill="#ff0000" d="M790 157h2v1h-2z M789 158h1v1h-1z M792 158h3v1h-3z M788 159h1v2h-1z M795 159h1v2h-1z M787 161h1v1h-1z M796 161h1v2h-1z M786 162h1v1h-1z M785 163h1v1h-1z M797 163h1v2h-1z M784 164h1v1h-1z M783 165h1v1h-1z M798 165h1v2h-1z M782 166h1v1h-1z M780 167h2v1h-2z M799 167h1v2h-1z M779 168h1v1h-1z M777 169h2v1h-2z M800 169h1v1h-1z M775 170h2v1h-2z M801 170h1v2h-1z M774 171h1v1h-1z M773 172h1v2h-1z M802 172h1v1h-1z M803 173h1v1h-1z M772 174h1v1h-1z M804 174h1v2h-1z M771 175h1v2h-1z M805 176h1v1h-1z M770 177h1v1h-1z M806 177h1v1h-1z M769 178h1v1h-1z M807 178h1v2h-1z M768 179h1v2h-1z M808 180h1v2h-1z M767 181h1v1h-1z M766 182h1v3h-1z M809 182h1v2h-1z M810 184h1v3h-1z M765 185h1v4h-1z M811 187h1v3h-1z M764 189h1v4h-1z M812 190h1v2h-1z M813 192h1v3h-1z M763 193h1v4h-1z M814 195h1v3h-1z M762 197h1v4h-1z M815 198h1v2h-1z M816 200h1v2h-1z M761 201h1v5h-1z M817 202h1v2h-1z M818 204h1v2h-1z M760 206h1v5h-1z M819 206h1v2h-1z M820 208h1v2h-1z M821 210h1v2h-1z M759 211h1v5h-1z M822 212h1v1h-1z M823 213h2v1h-2z M825 214h2v1h-2z M827 215h1v1h-1z M758 216h1v5h-1z M828 216h2v1h-2z M880 216h4v1h-4z M909 216h2v1h-2z M830 217h6v1h-6z M877 217h3v1h-3z M884 217h12v1h-12z M907 217h2v1h-2z M911 217h1v1h-1z M836 218h7v1h-7z M875 218h2v1h-2z M896 218h11v1h-11z M912 218h1v2h-1z M843 219h1v1h-1z M873 219h2v1h-2z M844 220h2v1h-2z M871 220h2v1h-2z M913 220h1v1h-1z M946 220h1v1h-1z M757 221h1v6h-1z M846 221h1v1h-1z M869 221h2v1h-2z M914 221h1v1h-1z M945 221h1v1h-1z M947 221h1v1h-1z M847 222h2v1h-2z M867 222h2v1h-2z M915 222h1v1h-1z M944 222h1v1h-1z M948 222h2v1h-2z M849 223h2v1h-2z M864 223h3v1h-3z M916 223h1v1h-1z M943 223h1v1h-1z M950 223h1v1h-1z M851 224h2v1h-2z M856 224h8v1h-8z M917 224h1v1h-1z M942 224h1v1h-1z M951 224h1v1h-1z M853 225h3v1h-3z M918 225h1v1h-1z M940 225h2v1h-2z M952 225h1v1h-1z M919 226h2v1h-2z M939 226h1v1h-1z M953 226h1v1h-1z M756 227h1v5h-1z M921 227h3v1h-3z M937 227h2v1h-2z M954 227h1v1h-1z M924 228h3v1h-3z M935 228h2v1h-2z M955 228h1v1h-1z M927 229h2v1h-2z M932 229h3v1h-3z M956 229h2v1h-2z M929 230h3v1h-3z M958 230h1v1h-1z M959 231h2v1h-2z M755 232h1v6h-1z M961 232h2v1h-2z M963 233h2v1h-2z M972 233h3v1h-3z M965 234h7v1h-7z M975 234h2v1h-2z M977 235h2v1h-2z M979 236h1v1h-1z M980 237h1v1h-1z M754 238h1v5h-1z M981 238h1v1h-1z M982 239h1v1h-1z M983 240h1v1h-1z M984 241h1v2h-1z M753 243h1v5h-1z M985 243h1v1h-1z M986 244h1v1h-1z M987 245h1v2h-1z M988 247h1v1h-1z M752 248h1v5h-1z M989 248h1v2h-1z M990 250h1v1h-1z M991 251h1v2h-1z M751 253h1v5h-1z M992 253h1v1h-1z M993 254h1v2h-1z M994 256h1v2h-1z M750 258h1v5h-1z M995 258h1v2h-1z M996 260h1v2h-1z M997 262h1v2h-1z M749 263h1v5h-1z M998 264h1v3h-1z M999 267h1v3h-1z M748 268h1v4h-1z M1000 270h1v2h-1z M747 272h1v5h-1z M1001 272h1v3h-1z M1002 275h1v3h-1z M746 277h1v5h-1z M1003 278h1v2h-1z M1004 280h1v3h-1z M745 282h1v6h-1z M1005 283h1v2h-1z M1006 285h1v2h-1z M1007 287h1v2h-1z M744 288h1v5h-1z M1008 289h1v2h-1z M1009 291h1v2h-1z M743 293h1v6h-1z M1010 293h1v2h-1z M1011 295h1v2h-1z M1012 297h1v2h-1z M742 299h1v5h-1z M1013 299h1v2h-1z M1014 301h1v3h-1z M741 304h1v6h-1z M1015 304h1v2h-1z M1016 306h1v3h-1z M1017 309h1v2h-1z M740 310h1v5h-1z M1018 311h1v3h-1z M1019 314h1v3h-1z M739 315h1v6h-1z M1020 317h1v4h-1z M738 321h1v5h-1z M1021 321h1v3h-1z M1022 324h1v3h-1z M737 326h1v4h-1z M1023 327h1v3h-1z M736 330h1v4h-1z M1024 330h1v2h-1z M1025 332h1v3h-1z M735 334h1v4h-1z M1026 335h1v3h-1z M734 338h1v3h-1z M1027 338h1v3h-1z M1093 340h7v1h-7z M1104 340h8v1h-8z M733 341h1v2h-1z M1028 341h1v2h-1z M1091 341h2v1h-2z M1100 341h4v1h-4z M1112 341h4v1h-4z M1128 341h8v1h-8z M1089 342h2v1h-2z M1116 342h12v1h-12z M1136 342h3v1h-3z M732 343h1v3h-1z M1029 343h1v3h-1z M1087 343h2v1h-2z M1139 343h1v1h-1z M1086 344h1v1h-1z M1140 344h2v1h-2z M1085 345h1v2h-1z M1142 345h2v1h-2z M731 346h1v2h-1z M1030 346h1v2h-1z M1144 346h3v1h-3z M1084 347h1v1h-1z M1147 347h1v1h-1z M730 348h1v3h-1z M1031 348h1v1h-1z M1083 348h1v2h-1z M1148 348h2v1h-2z M1032 349h1v2h-1z M1150 349h2v1h-2z M1082 350h1v1h-1z M1152 350h4v1h-4z M729 351h1v3h-1z M1033 351h1v1h-1z M1081 351h1v1h-1z M1156 351h8v1h-8z M1034 352h1v1h-1z M1080 352h1v1h-1z M1164 352h3v1h-3z M1035 353h1v1h-1z M1079 353h1v1h-1z M1167 353h2v1h-2z M728 354h1v2h-1z M1036 354h1v1h-1z M1078 354h1v1h-1z M1169 354h2v1h-2z M1037 355h1v1h-1z M1077 355h1v1h-1z M1171 355h1v1h-1z M727 356h1v3h-1z M1038 356h1v1h-1z M1076 356h1v2h-1z M1172 356h2v1h-2z M1039 357h1v1h-1z M1174 357h1v1h-1z M1040 358h2v1h-2z M1075 358h1v1h-1z M1175 358h1v1h-1z M726 359h1v3h-1z M1042 359h1v1h-1z M1072 359h3v1h-3z M1176 359h1v1h-1z M1043 360h1v1h-1z M1070 360h2v1h-2z M1177 360h1v1h-1z M1044 361h1v1h-1z M1068 361h2v1h-2z M1178 361h1v1h-1z M725 362h1v4h-1z M1045 362h1v1h-1z M1067 362h1v1h-1z M1179 362h2v1h-2z M1046 363h1v1h-1z M1064 363h3v1h-3z M1181 363h2v1h-2z M1047 364h1v1h-1z M1061 364h3v1h-3z M1183 364h1v1h-1z M1048 365h1v1h-1z M1059 365h2v1h-2z M1184 365h2v1h-2z M724 366h1v3h-1z M1049 366h1v1h-1z M1057 366h2v1h-2z M1186 366h1v1h-1z M1050 367h2v1h-2z M1055 367h2v1h-2z M1187 367h1v1h-1z M1052 368h3v1h-3z M1188 368h1v2h-1z M723 369h1v4h-1z M1189 370h1v1h-1z M1190 371h1v1h-1z M1191 372h1v1h-1z M722 373h1v3h-1z M1192 373h1v1h-1z M1193 374h1v1h-1z M1194 375h1v1h-1z M721 376h1v3h-1z M1195 376h1v1h-1z M1196 377h1v1h-1z M1197 378h1v1h-1z M720 379h1v2h-1z M1198 379h1v1h-1z M1199 380h1v1h-1z M719 381h1v3h-1z M1200 381h2v1h-2z M1202 382h1v1h-1z M1203 383h1v1h-1z M718 384h1v3h-1z M1204 384h2v1h-2z M1206 385h1v1h-1z M1207 386h1v1h-1z M717 387h1v2h-1z M1208 387h2v1h-2z M1210 388h1v1h-1z M716 389h1v3h-1z M1211 389h1v1h-1z M1212 390h2v1h-2z M1214 391h1v1h-1z M715 392h1v2h-1z M1215 392h1v1h-1z M1216 393h1v1h-1z M714 394h1v3h-1z M1217 394h1v1h-1z M1218 395h1v1h-1z M1219 396h1v1h-1z M713 397h1v3h-1z M1220 397h1v2h-1z M1221 399h1v1h-1z M712 400h1v2h-1z M1222 400h1v1h-1z M1223 401h1v1h-1z M711 402h1v3h-1z M1224 402h2v1h-2z M1226 403h2v1h-2z M1232 403h3v1h-3z M1228 404h4v1h-4z M1235 404h2v1h-2z M710 405h1v2h-1z M1237 405h2v1h-2z M1239 406h2v1h-2z M709 407h1v2h-1z M1241 407h2v1h-2z M1243 408h1v1h-1z M708 409h1v1h-1z M1244 409h2v1h-2z M707 410h1v2h-1z M1246 410h1v1h-1z M1247 411h1v1h-1z M706 412h1v1h-1z M1248 412h2v1h-2z M704 413h2v1h-2z M1250 413h1v1h-1z M703 414h1v1h-1z M1251 414h2v1h-2z M702 415h1v1h-1z M1253 415h2v1h-2z M701 416h1v1h-1z M1255 416h1v1h-1z M700 417h1v1h-1z M1256 417h1v1h-1z M699 418h1v1h-1z M1257 418h1v1h-1z M698 419h1v1h-1z M1258 419h1v1h-1z M696 420h2v1h-2z M1259 420h1v1h-1z M695 421h1v1h-1z M1260 421h2v1h-2z M694 422h1v1h-1z M1262 422h1v1h-1z M692 423h2v1h-2z M1263 423h1v1h-1z M64 424h4v1h-4z M691 424h1v1h-1z M1264 424h1v1h-1z M48 425h4v1h-4z M60 425h4v1h-4z M68 425h4v1h-4z M689 425h2v1h-2z M1265 425h1v1h-1z M44 426h4v1h-4z M52 426h8v1h-8z M72 426h3v1h-3z M687 426h2v1h-2z M1266 426h1v1h-1z M40 427h4v1h-4z M75 427h1v1h-1z M188 427h7v1h-7z M685 427h2v1h-2z M36 428h4v1h-4z M76 428h2v1h-2z M184 428h4v1h-4z M195 428h2v1h-2z M683 428h2v1h-2z M32 429h4v1h-4z M78 429h1v1h-1z M180 429h4v1h-4z M197 429h3v1h-3z M376 429h8v1h-8z M682 429h1v1h-1z M28 430h4v1h-4z M79 430h2v1h-2z M176 430h4v1h-4z M200 430h4v1h-4z M373 430h3v1h-3z M384 430h8v1h-8z M640 430h4v1h-4z M680 430h2v1h-2z M21 431h7v1h-7z M81 431h2v1h-2z M172 431h4v1h-4z M204 431h4v1h-4z M371 431h2v1h-2z M392 431h4v1h-4z M628 431h12v1h-12z M644 431h4v1h-4z M679 431h1v1h-1z M19 432h2v1h-2z M83 432h1v1h-1z M169 432h3v1h-3z M208 432h4v1h-4z M364 432h7v1h-7z M396 432h4v1h-4z M625 432h3v1h-3z M648 432h3v1h-3z M678 432h1v1h-1z M17 433h2v1h-2z M84 433h1v1h-1z M167 433h2v1h-2z M212 433h4v1h-4z M360 433h4v1h-4z M400 433h3v1h-3z M623 433h2v1h-2z M651 433h2v1h-2z M676 433h2v1h-2z M15 434h2v1h-2z M85 434h1v1h-1z M148 434h12v1h-12z M164 434h3v1h-3z M216 434h3v1h-3z M356 434h4v1h-4z M403 434h2v1h-2z M620 434h3v1h-3z M653 434h3v1h-3z M675 434h1v1h-1z M13 435h2v1h-2z M86 435h1v1h-1z M146 435h2v1h-2z M160 435h4v1h-4z M219 435h1v1h-1z M353 435h3v1h-3z M405 435h2v1h-2z M618 435h2v1h-2z M656 435h4v1h-4z M673 435h2v1h-2z M11 436h2v1h-2z M87 436h1v1h-1z M144 436h2v1h-2z M220 436h1v1h-1z M351 436h2v1h-2z M407 436h2v1h-2z M616 436h2v1h-2z M660 436h8v1h-8z M671 436h2v1h-2z M8 437h3v1h-3z M88 437h2v1h-2z M143 437h1v1h-1z M221 437h1v1h-1z M349 437h2v1h-2z M409 437h2v1h-2z M615 437h1v1h-1z M668 437h3v1h-3z M4 438h4v1h-4z M90 438h2v1h-2z M142 438h1v1h-1z M222 438h1v1h-1z M347 438h2v1h-2z M411 438h2v1h-2z M614 438h1v1h-1z M2 439h2v1h-2z M92 439h4v1h-4z M140 439h2v1h-2z M223 439h1v1h-1z M345 439h2v1h-2z M413 439h2v1h-2z M613 439h1v1h-1z M96 440h4v1h-4z M139 440h1v1h-1z M224 440h1v1h-1z M343 440h2v1h-2z M415 440h2v1h-2z M612 440h1v1h-1z M100 441h8v1h-8z M136 441h3v1h-3z M225 441h1v1h-1z M341 441h2v1h-2z M417 441h2v1h-2z M611 441h1v1h-1z M108 442h4v1h-4z M133 442h3v1h-3z M226 442h1v1h-1z M339 442h2v1h-2z M419 442h2v1h-2z M610 442h1v1h-1z M112 443h4v1h-4z M131 443h2v1h-2z M227 443h1v1h-1z M338 443h1v1h-1z M421 443h2v1h-2z M608 443h2v1h-2z M116 444h4v1h-4z M128 444h3v1h-3z M228 444h1v1h-1z M336 444h2v1h-2z M423 444h1v1h-1z M607 444h1v1h-1z M120 445h8v1h-8z M229 445h1v1h-1z M335 445h1v1h-1z M424 445h2v1h-2z M606 445h1v1h-1z M230 446h1v1h-1z M334 446h1v1h-1z M426 446h1v1h-1z M604 446h2v1h-2z M231 447h1v1h-1z M332 447h2v1h-2z M427 447h1v1h-1z M603 447h1v1h-1z M232 448h1v2h-1z M331 448h1v1h-1z M428 448h2v1h-2z M602 448h1v1h-1z M328 449h3v1h-3z M430 449h1v1h-1z M601 449h1v1h-1z M233 450h1v1h-1z M324 450h4v1h-4z M431 450h1v1h-1z M600 450h1v2h-1z M234 451h1v1h-1z M321 451h3v1h-3z M432 451h2v1h-2z M235 452h1v1h-1z M319 452h2v1h-2z M434 452h1v1h-1z M599 452h1v1h-1z M236 453h1v1h-1z M316 453h3v1h-3z M435 453h2v1h-2z M598 453h1v1h-1z M237 454h1v1h-1z M314 454h2v1h-2z M437 454h6v1h-6z M597 454h1v1h-1z M238 455h1v1h-1z M312 455h2v1h-2z M443 455h2v1h-2z M596 455h1v2h-1z M239 456h1v2h-1z M311 456h1v1h-1z M445 456h2v1h-2z M310 457h1v1h-1z M447 457h2v1h-2z M595 457h1v1h-1z M240 458h1v1h-1z M309 458h1v1h-1z M449 458h3v1h-3z M594 458h1v1h-1z M241 459h1v2h-1z M308 459h1v1h-1z M452 459h3v1h-3z M593 459h1v1h-1z M307 460h1v1h-1z M455 460h2v1h-2z M592 460h1v1h-1z M242 461h1v1h-1z M306 461h1v1h-1z M457 461h2v1h-2z M591 461h1v1h-1z M243 462h1v1h-1z M304 462h2v1h-2z M459 462h1v1h-1z M590 462h1v1h-1z M244 463h1v2h-1z M303 463h1v1h-1z M460 463h2v1h-2z M589 463h1v1h-1z M302 464h1v1h-1z M462 464h1v1h-1z M588 464h1v1h-1z M245 465h1v1h-1z M300 465h2v1h-2z M463 465h2v1h-2z M587 465h1v1h-1z M246 466h1v1h-1z M299 466h1v1h-1z M465 466h2v1h-2z M586 466h1v1h-1z M247 467h1v1h-1z M298 467h1v1h-1z M467 467h1v1h-1z M585 467h1v1h-1z M248 468h1v1h-1z M296 468h2v1h-2z M468 468h2v1h-2z M584 468h1v1h-1z M249 469h1v1h-1z M295 469h1v1h-1z M470 469h1v1h-1z M583 469h1v1h-1z M250 470h1v1h-1z M293 470h2v1h-2z M471 470h1v1h-1z M582 470h1v1h-1z M251 471h2v1h-2z M291 471h2v1h-2z M472 471h1v1h-1z M580 471h2v1h-2z M253 472h2v1h-2z M289 472h2v1h-2z M473 472h1v1h-1z M579 472h1v1h-1z M255 473h2v1h-2z M287 473h2v1h-2z M474 473h1v1h-1z M578 473h1v1h-1z M257 474h3v1h-3z M285 474h2v1h-2z M475 474h1v1h-1z M576 474h2v1h-2z M260 475h4v1h-4z M283 475h2v1h-2z M476 475h2v1h-2z M575 475h1v1h-1z M264 476h4v1h-4z M276 476h7v1h-7z M478 476h1v1h-1z M574 476h1v1h-1z M268 477h8v1h-8z M479 477h1v1h-1z M572 477h2v1h-2z M480 478h1v1h-1z M571 478h1v1h-1z M481 479h1v1h-1z M570 479h1v1h-1z M482 480h1v1h-1z M568 480h2v1h-2z M483 481h2v1h-2z M567 481h1v1h-1z M485 482h2v1h-2z M565 482h2v1h-2z M487 483h1v1h-1z M563 483h2v1h-2z M488 484h2v1h-2z M560 484h3v1h-3z M490 485h1v1h-1z M557 485h3v1h-3z M491 486h1v1h-1z M555 486h2v1h-2z M492 487h1v1h-1z M554 487h1v1h-1z M493 488h1v1h-1z M552 488h2v1h-2z M494 489h1v1h-1z M551 489h1v1h-1z M495 490h1v1h-1z M550 490h1v1h-1z M496 491h2v1h-2z M548 491h2v1h-2z M498 492h1v1h-1z M547 492h1v1h-1z M499 493h1v1h-1z M544 493h3v1h-3z M500 494h2v1h-2z M540 494h4v1h-4z M502 495h2v1h-2z M537 495h3v1h-3z M504 496h3v1h-3z M535 496h2v1h-2z M507 497h2v1h-2z M533 497h2v1h-2z M509 498h3v1h-3z M531 498h2v1h-2z M512 499h4v1h-4z M528 499h3v1h-3z M516 500h12v1h-12z"/>
<path fill="#ffa500" d="M758 106h1v3h-1z M759 107h1v1h-1z M760 108h2v1h-2z M757 109h1v5h-1z M762 109h1v1h-1z M763 110h1v2h-1z M764 112h1v2h-1z M756 114h1v4h-1z M765 114h1v2h-1z M766 116h1v3h-1z M755 118h1v5h-1z M767 119h1v4h-1z M754 123h1v6h-1z M768 123h1v5h-1z M769 128h1v4h-1z M753 129h1v6h-1z M770 132h1v5h-1z M752 135h1v6h-1z M771 137h1v5h-1z M751 141h1v6h-1z M772 142h1v4h-1z M773 146h1v5h-1z M750 147h1v7h-1z M774 151h1v7h-1z M749 154h1v6h-1z M775 158h1v8h-1z M748 160h1v6h-1z M747 166h1v6h-1z M776 166h1v8h-1z M746 172h1v6h-1z M777 174h1v8h-1z M745 178h1v6h-1z M778 182h1v6h-1z M744 184h1v7h-1z M779 188h1v4h-1z M743 191h1v6h-1z M798 191h2v1h-2z M804 191h3v1h-3z M780 192h1v4h-1z M798 192h1v1h-1z M800 192h4v1h-4z M806 192h1v1h-1z M797 193h1v3h-1z M807 193h1v4h-1z M781 196h1v4h-1z M796 196h1v2h-1z M742 197h1v8h-1z M808 197h1v3h-1z M795 198h1v3h-1z M782 200h1v4h-1z M809 200h1v4h-1z M794 201h1v2h-1z M793 202h1v1h-1z M873 202h2v1h-2z M791 203h2v1h-2z M871 203h2v1h-2z M874 203h1v1h-1z M783 204h1v3h-1z M790 204h1v2h-1z M810 204h1v2h-1z M870 204h1v1h-1z M875 204h1v2h-1z M741 205h1v9h-1z M869 205h1v1h-1z M789 206h1v2h-1z M811 206h1v1h-1z M868 206h1v2h-1z M876 206h1v2h-1z M784 207h1v3h-1z M812 207h1v2h-1z M858 207h2v1h-2z M788 208h1v3h-1z M857 208h1v1h-1z M860 208h4v1h-4z M867 208h1v1h-1z M877 208h1v2h-1z M813 209h1v1h-1z M856 209h1v1h-1z M864 209h3v1h-3z M785 210h1v3h-1z M814 210h1v2h-1z M855 210h1v1h-1z M878 210h1v2h-1z M910 210h1v2h-1z M787 211h1v2h-1z M854 211h1v2h-1z M911 211h1v2h-1z M815 212h1v2h-1z M879 212h1v2h-1z M909 212h1v3h-1z M786 213h1v2h-1z M853 213h1v2h-1z M912 213h1v2h-1z M946 213h1v1h-1z M740 214h1v9h-1z M816 214h1v2h-1z M880 214h1v2h-1z M945 214h1v1h-1z M947 214h2v1h-2z M852 215h1v2h-1z M908 215h1v3h-1z M913 215h1v2h-1z M944 215h1v1h-1z M949 215h2v1h-2z M817 216h1v2h-1z M881 216h1v2h-1z M943 216h1v1h-1z M950 216h1v1h-1z M851 217h1v2h-1z M914 217h1v2h-1z M942 217h1v2h-1z M951 217h1v3h-1z M818 218h1v3h-1z M882 218h1v1h-1z M907 218h1v3h-1z M850 219h1v2h-1z M883 219h1v2h-1z M915 219h1v2h-1z M941 219h1v2h-1z M952 220h1v3h-1z M819 221h1v3h-1z M849 221h1v1h-1z M884 221h1v1h-1z M906 221h1v2h-1z M916 221h1v2h-1z M940 221h1v2h-1z M848 222h1v1h-1z M885 222h1v2h-1z M739 223h1v9h-1z M847 223h1v1h-1z M905 223h1v1h-1z M917 223h1v2h-1z M939 223h1v2h-1z M953 223h1v3h-1z M820 224h1v2h-1z M846 224h1v1h-1z M886 224h1v2h-1z M904 224h1v2h-1z M845 225h1v1h-1z M918 225h1v2h-1z M938 225h1v2h-1z M821 226h1v3h-1z M844 226h1v2h-1z M887 226h1v2h-1z M903 226h1v1h-1z M954 226h1v3h-1z M902 227h1v1h-1z M919 227h1v2h-1z M937 227h1v2h-1z M843 228h1v1h-1z M888 228h1v3h-1z M901 228h1v1h-1z M822 229h1v3h-1z M842 229h1v2h-1z M900 229h1v2h-1z M920 229h1v2h-1z M936 229h1v3h-1z M955 229h1v2h-1z M841 231h1v2h-1z M889 231h1v2h-1z M899 231h1v1h-1z M921 231h1v2h-1z M956 231h1v2h-1z M738 232h1v8h-1z M823 232h1v2h-1z M897 232h2v1h-2z M935 232h1v2h-1z M840 233h1v3h-1z M890 233h1v2h-1z M895 233h2v1h-2z M922 233h1v2h-1z M957 233h1v2h-1z M824 234h1v2h-1z M891 234h4v1h-4z M923 234h4v1h-4z M934 234h1v2h-1z M927 235h1v2h-1z M958 235h1v2h-1z M825 236h1v2h-1z M839 236h1v2h-1z M933 236h1v2h-1z M928 237h1v2h-1z M959 237h1v2h-1z M826 238h1v2h-1z M838 238h1v3h-1z M932 238h1v1h-1z M827 239h1v1h-1z M929 239h1v2h-1z M931 239h1v2h-1z M960 239h1v2h-1z M737 240h1v6h-1z M828 240h3v1h-3z M831 241h1v2h-1z M837 241h1v2h-1z M930 241h1v1h-1z M961 241h1v2h-1z M974 241h1v1h-1z M973 242h1v1h-1z M975 242h1v1h-1z M832 243h1v2h-1z M836 243h1v2h-1z M962 243h1v2h-1z M972 243h1v2h-1z M976 243h1v2h-1z M833 245h1v2h-1z M835 245h1v2h-1z M963 245h1v1h-1z M971 245h1v1h-1z M977 245h1v1h-1z M736 246h1v6h-1z M964 246h1v1h-1z M969 246h2v1h-2z M978 246h1v2h-1z M834 247h1v1h-1z M965 247h1v1h-1z M967 247h2v1h-2z M966 248h1v1h-1z M979 248h1v2h-1z M980 250h1v2h-1z M735 252h1v6h-1z M981 252h1v2h-1z M982 254h1v3h-1z M983 257h1v4h-1z M734 258h1v4h-1z M984 261h1v3h-1z M733 262h1v3h-1z M985 264h1v4h-1z M732 265h1v2h-1z M731 267h1v3h-1z M986 268h1v3h-1z M730 270h1v4h-1z M987 271h1v2h-1z M988 273h1v3h-1z M729 274h1v6h-1z M989 276h1v2h-1z M990 278h1v3h-1z M728 280h1v5h-1z M991 281h1v3h-1z M992 284h1v2h-1z M727 285h1v6h-1z M993 286h1v3h-1z M994 289h1v3h-1z M726 291h1v6h-1z M995 292h1v3h-1z M996 295h1v3h-1z M725 297h1v8h-1z M997 298h1v3h-1z M998 301h1v3h-1z M999 304h1v4h-1z M724 305h1v8h-1z M1000 308h1v4h-1z M1001 312h1v4h-1z M723 313h1v8h-1z M1002 316h1v3h-1z M1003 319h1v4h-1z M722 321h1v7h-1z M1004 323h1v4h-1z M1096 325h3v1h-3z M1094 326h2v1h-2z M1099 326h1v1h-1z M1005 327h1v4h-1z M1094 327h1v1h-1z M1100 327h1v1h-1z M721 328h1v6h-1z M1093 328h1v2h-1z M1101 328h1v1h-1z M1102 329h1v1h-1z M1092 330h1v2h-1z M1103 330h1v2h-1z M1006 331h1v3h-1z M1091 332h1v2h-1z M1104 332h1v1h-1z M1105 333h1v2h-1z M720 334h1v6h-1z M1007 334h1v4h-1z M1090 334h1v2h-1z M1106 335h1v1h-1z M1089 336h1v2h-1z M1107 336h1v1h-1z M1108 337h1v2h-1z M1008 338h1v4h-1z M1088 338h1v2h-1z M1109 339h1v1h-1z M719 340h1v6h-1z M1087 340h1v2h-1z M1110 340h1v1h-1z M1111 341h1v2h-1z M1009 342h1v4h-1z M1086 342h1v1h-1z M1085 343h1v1h-1z M1112 343h1v2h-1z M1084 344h1v2h-1z M1050 345h10v1h-10z M1113 345h1v2h-1z M718 346h1v5h-1z M1010 346h1v4h-1z M1050 346h1v1h-1z M1060 346h4v1h-4z M1083 346h1v1h-1z M1146 346h1v1h-1z M1049 347h1v2h-1z M1064 347h4v1h-4z M1082 347h1v1h-1z M1114 347h1v1h-1z M1144 347h2v1h-2z M1147 347h1v1h-1z M1068 348h3v1h-3z M1081 348h1v1h-1z M1115 348h1v1h-1z M1137 348h3v1h-3z M1143 348h1v1h-1z M1148 348h2v1h-2z M1048 349h1v3h-1z M1071 349h1v1h-1z M1080 349h1v1h-1z M1116 349h1v1h-1z M1135 349h2v1h-2z M1140 349h3v1h-3z M1150 349h1v1h-1z M1011 350h1v5h-1z M1072 350h2v1h-2z M1079 350h1v1h-1z M1117 350h1v1h-1z M1120 350h3v1h-3z M1133 350h2v1h-2z M1151 350h1v1h-1z M717 351h1v4h-1z M1074 351h5v1h-5z M1118 351h2v1h-2z M1123 351h1v1h-1z M1131 351h2v1h-2z M1152 351h2v1h-2z M1047 352h1v2h-1z M1124 352h2v1h-2z M1128 352h3v1h-3z M1154 352h2v1h-2z M1160 352h3v1h-3z M1126 353h2v1h-2z M1156 353h4v1h-4z M1163 353h1v1h-1z M1046 354h1v3h-1z M1164 354h1v1h-1z M716 355h1v5h-1z M1012 355h1v5h-1z M1165 355h1v1h-1z M1166 356h1v1h-1z M1045 357h1v2h-1z M1167 357h1v1h-1z M1168 358h1v2h-1z M1044 359h1v3h-1z M715 360h1v4h-1z M1013 360h1v5h-1z M1169 360h1v1h-1z M1170 361h1v1h-1z M1043 362h1v2h-1z M1171 362h1v2h-1z M714 364h1v5h-1z M1042 364h1v3h-1z M1172 364h1v2h-1z M1014 365h1v4h-1z M1173 366h1v2h-1z M1041 367h1v3h-1z M1174 368h1v2h-1z M713 369h1v5h-1z M1015 369h1v2h-1z M1040 370h1v4h-1z M1175 370h1v3h-1z M1016 371h1v3h-1z M1176 373h1v2h-1z M712 374h1v6h-1z M1017 374h1v2h-1z M1039 374h1v3h-1z M1177 375h1v3h-1z M1018 376h1v2h-1z M1038 377h1v3h-1z M1019 378h1v2h-1z M1178 378h1v2h-1z M711 380h1v5h-1z M1020 380h1v2h-1z M1037 380h1v2h-1z M1179 380h1v2h-1z M1021 382h1v2h-1z M1036 382h1v2h-1z M1180 382h1v2h-1z M1022 384h1v1h-1z M1035 384h1v2h-1z M1181 384h1v2h-1z M710 385h1v4h-1z M1023 385h1v1h-1z M1024 386h2v1h-2z M1034 386h1v2h-1z M1182 386h1v2h-1z M1026 387h1v1h-1z M1027 388h1v2h-1z M1033 388h1v2h-1z M1183 388h1v2h-1z M709 389h1v2h-1z M1028 390h1v2h-1z M1032 390h1v2h-1z M1184 390h1v1h-1z M708 391h1v3h-1z M1185 391h1v2h-1z M1029 392h1v2h-1z M1031 392h1v2h-1z M1186 393h1v1h-1z M707 394h1v2h-1z M1030 394h1v1h-1z M1187 394h1v1h-1z M1188 395h1v1h-1z M706 396h1v2h-1z M1189 396h1v1h-1z M1190 397h1v1h-1z M704 398h2v1h-2z M1191 398h2v1h-2z M1200 398h3v1h-3z M1213 398h6v1h-6z M703 399h1v1h-1z M1193 399h7v1h-7z M1203 399h2v1h-2z M1211 399h2v1h-2z M1218 399h1v1h-1z M693 400h3v1h-3z M700 400h3v1h-3z M1205 400h6v1h-6z M1219 400h1v2h-1z M691 401h2v1h-2z M696 401h4v1h-4z M689 402h2v1h-2z M1220 402h1v3h-1z M687 403h2v1h-2z M686 404h1v1h-1z M685 405h1v1h-1z M1221 405h1v2h-1z M684 406h1v2h-1z M1222 407h1v2h-1z M683 408h1v1h-1z M682 409h1v2h-1z M1223 409h1v1h-1z M1224 410h1v2h-1z M681 411h1v2h-1z M1225 412h1v1h-1z M680 413h1v2h-1z M1226 413h6v1h-6z M1241 413h2v1h-2z M1232 414h4v1h-4z M1239 414h2v1h-2z M1243 414h2v1h-2z M679 415h1v2h-1z M1236 415h3v1h-3z M1245 415h2v1h-2z M1246 416h1v1h-1z M184 417h7v1h-7z M678 417h1v2h-1z M1247 417h1v2h-1z M182 418h2v1h-2z M191 418h1v1h-1z M181 419h1v1h-1z M192 419h2v1h-2z M677 419h1v3h-1z M1248 419h1v3h-1z M180 420h1v2h-1z M194 420h1v1h-1z M195 421h1v2h-1z M30 422h2v1h-2z M65 422h2v1h-2z M179 422h1v1h-1z M676 422h1v2h-1z M1249 422h1v2h-1z M28 423h2v1h-2z M32 423h3v1h-3z M63 423h2v1h-2z M67 423h2v1h-2z M178 423h1v1h-1z M196 423h1v2h-1z M613 423h6v1h-6z M16 424h3v1h-3z M27 424h1v1h-1z M35 424h2v1h-2z M62 424h1v1h-1z M69 424h2v1h-2z M177 424h1v1h-1z M611 424h2v1h-2z M619 424h2v1h-2z M675 424h1v3h-1z M1250 424h1v2h-1z M14 425h2v1h-2z M19 425h1v1h-1z M25 425h2v1h-2z M37 425h7v1h-7z M60 425h2v1h-2z M71 425h2v1h-2z M176 425h1v1h-1z M197 425h1v2h-1z M350 425h14v1h-14z M609 425h2v1h-2z M621 425h2v1h-2z M13 426h1v1h-1z M20 426h2v1h-2z M23 426h2v1h-2z M44 426h3v1h-3z M59 426h1v1h-1z M73 426h2v1h-2z M175 426h1v1h-1z M349 426h1v1h-1z M364 426h3v1h-3z M607 426h2v1h-2z M623 426h1v1h-1z M1251 426h1v2h-1z M12 427h1v1h-1z M22 427h1v1h-1z M47 427h2v1h-2z M57 427h2v1h-2z M74 427h1v1h-1z M174 427h1v1h-1z M198 427h1v2h-1z M348 427h1v2h-1z M367 427h2v1h-2z M606 427h1v1h-1z M624 427h2v1h-2z M674 427h1v3h-1z M11 428h1v1h-1z M49 428h3v1h-3z M55 428h2v1h-2z M75 428h1v2h-1z M173 428h1v1h-1z M369 428h10v1h-10z M605 428h1v1h-1z M626 428h1v1h-1z M1252 428h1v2h-1z M8 429h3v1h-3z M52 429h3v1h-3z M172 429h1v2h-1z M199 429h1v2h-1z M347 429h1v1h-1z M379 429h1v1h-1z M604 429h1v1h-1z M627 429h1v1h-1z M6 430h2v1h-2z M76 430h1v2h-1z M346 430h1v1h-1z M380 430h2v1h-2z M603 430h1v1h-1z M628 430h2v1h-2z M673 430h1v2h-1z M1253 430h1v2h-1z M4 431h2v1h-2z M171 431h1v1h-1z M200 431h1v2h-1z M345 431h1v1h-1z M382 431h1v1h-1z M602 431h1v1h-1z M630 431h1v1h-1z M3 432h1v1h-1z M77 432h1v2h-1z M132 432h4v1h-4z M140 432h7v1h-7z M170 432h1v1h-1z M344 432h1v2h-1z M383 432h1v1h-1z M600 432h2v1h-2z M631 432h1v1h-1z M672 432h1v2h-1z M1254 432h1v1h-1z M2 433h1v1h-1z M129 433h3v1h-3z M136 433h4v1h-4z M147 433h2v1h-2z M169 433h1v1h-1z M201 433h1v2h-1z M384 433h1v2h-1z M599 433h1v1h-1z M632 433h1v1h-1z M1255 433h1v1h-1z M78 434h1v2h-1z M118 434h6v1h-6z M127 434h2v1h-2z M149 434h3v1h-3z M168 434h1v1h-1z M343 434h1v1h-1z M598 434h1v1h-1z M633 434h1v1h-1z M671 434h1v2h-1z M1256 434h1v2h-1z M117 435h1v1h-1z M124 435h3v1h-3z M152 435h4v1h-4z M167 435h1v1h-1z M202 435h1v1h-1z M342 435h1v1h-1z M385 435h1v1h-1z M597 435h1v1h-1z M634 435h1v1h-1z M79 436h1v2h-1z M116 436h1v1h-1z M156 436h3v1h-3z M166 436h1v1h-1z M203 436h1v2h-1z M340 436h2v1h-2z M386 436h2v1h-2z M596 436h1v1h-1z M635 436h2v1h-2z M670 436h1v1h-1z M1257 436h1v1h-1z M115 437h1v1h-1z M159 437h1v1h-1z M164 437h2v1h-2z M339 437h1v1h-1z M388 437h3v1h-3z M595 437h1v1h-1z M637 437h3v1h-3z M669 437h1v1h-1z M1258 437h1v1h-1z M80 438h1v2h-1z M113 438h2v1h-2z M160 438h2v1h-2z M163 438h1v1h-1z M204 438h1v1h-1z M338 438h1v1h-1z M391 438h2v1h-2z M594 438h1v1h-1z M640 438h7v1h-7z M668 438h1v1h-1z M1259 438h1v1h-1z M111 439h2v1h-2z M162 439h1v1h-1z M205 439h1v2h-1z M336 439h2v1h-2z M393 439h2v1h-2z M593 439h1v1h-1z M647 439h1v1h-1z M667 439h1v1h-1z M1260 439h1v2h-1z M81 440h1v2h-1z M110 440h1v1h-1z M335 440h1v1h-1z M395 440h1v1h-1z M405 440h2v1h-2z M592 440h1v1h-1z M648 440h2v1h-2z M666 440h1v1h-1z M109 441h1v2h-1z M206 441h1v1h-1z M320 441h4v1h-4z M333 441h2v1h-2z M396 441h2v1h-2z M403 441h2v1h-2z M407 441h1v1h-1z M591 441h1v1h-1z M650 441h2v1h-2z M664 441h2v1h-2z M1261 441h1v1h-1z M82 442h1v3h-1z M207 442h1v2h-1z M313 442h7v1h-7z M324 442h4v1h-4z M331 442h2v1h-2z M398 442h5v1h-5z M408 442h1v1h-1z M590 442h1v1h-1z M652 442h3v1h-3z M663 442h1v1h-1z M1262 442h1v1h-1z M108 443h1v1h-1z M311 443h2v1h-2z M328 443h3v1h-3z M409 443h1v1h-1z M589 443h1v1h-1z M655 443h2v1h-2z M660 443h3v1h-3z M1263 443h2v1h-2z M107 444h1v2h-1z M208 444h1v2h-1z M310 444h1v1h-1z M410 444h1v1h-1z M588 444h1v2h-1z M657 444h3v1h-3z M1265 444h2v1h-2z M83 445h1v2h-1z M309 445h1v1h-1z M411 445h1v1h-1z M106 446h1v1h-1z M209 446h1v2h-1z M308 446h1v1h-1z M412 446h2v1h-2z M587 446h1v1h-1z M84 447h1v3h-1z M105 447h1v2h-1z M307 447h1v1h-1z M414 447h1v1h-1z M586 447h1v1h-1z M210 448h1v1h-1z M306 448h1v1h-1z M415 448h1v1h-1z M584 448h2v1h-2z M104 449h1v2h-1z M211 449h1v1h-1z M304 449h2v1h-2z M416 449h2v1h-2z M583 449h1v1h-1z M85 450h1v2h-1z M212 450h1v1h-1z M303 450h1v1h-1z M418 450h1v1h-1z M582 450h1v1h-1z M103 451h1v2h-1z M213 451h1v1h-1z M302 451h1v1h-1z M419 451h1v1h-1z M581 451h1v1h-1z M86 452h1v2h-1z M214 452h1v1h-1z M300 452h2v1h-2z M420 452h1v2h-1z M580 452h1v2h-1z M102 453h1v1h-1z M215 453h2v1h-2z M299 453h1v1h-1z M87 454h1v2h-1z M101 454h1v2h-1z M217 454h2v1h-2z M298 454h1v1h-1z M421 454h1v1h-1z M579 454h1v1h-1z M219 455h1v1h-1z M297 455h1v1h-1z M422 455h1v1h-1z M578 455h1v1h-1z M88 456h1v1h-1z M100 456h1v1h-1z M220 456h2v1h-2z M296 456h1v1h-1z M423 456h1v1h-1z M577 456h1v1h-1z M89 457h1v2h-1z M99 457h1v2h-1z M222 457h1v1h-1z M295 457h1v1h-1z M424 457h2v1h-2z M576 457h1v2h-1z M223 458h1v2h-1z M294 458h1v1h-1z M426 458h1v1h-1z M90 459h1v1h-1z M97 459h2v1h-2z M293 459h1v1h-1z M427 459h1v1h-1z M575 459h1v1h-1z M91 460h2v1h-2z M95 460h2v1h-2z M224 460h1v1h-1z M292 460h1v1h-1z M428 460h1v1h-1z M453 460h2v1h-2z M574 460h1v1h-1z M93 461h2v1h-2z M225 461h1v2h-1z M291 461h1v1h-1z M429 461h1v1h-1z M451 461h2v1h-2z M455 461h1v1h-1z M572 461h2v1h-2z M288 462h3v1h-3z M430 462h1v1h-1z M449 462h2v1h-2z M456 462h2v1h-2z M571 462h1v1h-1z M226 463h1v1h-1z M285 463h3v1h-3z M431 463h1v1h-1z M447 463h2v1h-2z M458 463h1v1h-1z M570 463h1v1h-1z M227 464h1v2h-1z M278 464h2v1h-2z M283 464h2v1h-2z M432 464h1v1h-1z M444 464h3v1h-3z M459 464h1v1h-1z M568 464h2v1h-2z M277 465h1v1h-1z M280 465h3v1h-3z M433 465h1v1h-1z M441 465h3v1h-3z M460 465h1v2h-1z M567 465h1v1h-1z M228 466h1v1h-1z M276 466h1v1h-1z M434 466h2v1h-2z M439 466h2v1h-2z M566 466h1v1h-1z M229 467h1v2h-1z M275 467h1v1h-1z M436 467h3v1h-3z M461 467h1v1h-1z M565 467h1v2h-1z M274 468h1v1h-1z M462 468h1v1h-1z M230 469h1v1h-1z M273 469h1v1h-1z M463 469h1v2h-1z M564 469h1v1h-1z M231 470h1v2h-1z M272 470h1v1h-1z M563 470h1v2h-1z M271 471h1v1h-1z M464 471h1v1h-1z M232 472h1v1h-1z M270 472h1v1h-1z M465 472h1v2h-1z M562 472h1v1h-1z M233 473h1v2h-1z M269 473h1v1h-1z M561 473h1v1h-1z M268 474h1v2h-1z M466 474h1v1h-1z M560 474h1v2h-1z M234 475h1v1h-1z M467 475h1v1h-1z M235 476h2v1h-2z M267 476h1v1h-1z M468 476h1v2h-1z M559 476h1v1h-1z M237 477h2v1h-2z M266 477h1v1h-1z M558 477h1v1h-1z M239 478h1v1h-1z M265 478h1v1h-1z M469 478h1v1h-1z M557 478h1v1h-1z M240 479h2v1h-2z M264 479h1v1h-1z M470 479h1v2h-1z M556 479h1v1h-1z M242 480h1v1h-1z M263 480h1v1h-1z M555 480h1v1h-1z M243 481h1v1h-1z M262 481h1v1h-1z M471 481h1v3h-1z M554 481h1v1h-1z M244 482h2v1h-2z M261 482h1v2h-1z M553 482h1v1h-1z M246 483h1v1h-1z M552 483h1v2h-1z M247 484h1v1h-1z M260 484h1v1h-1z M472 484h1v2h-1z M248 485h2v1h-2z M259 485h1v2h-1z M551 485h1v1h-1z M250 486h6v1h-6z M473 486h1v3h-1z M550 486h1v1h-1z M256 487h3v1h-3z M549 487h1v1h-1z M521 488h2v1h-2z M548 488h1v1h-1z M474 489h1v2h-1z M519 489h2v1h-2z M523 489h1v1h-1z M547 489h1v1h-1z M517 490h2v1h-2z M524 490h2v1h-2z M544 490h3v1h-3z M475 491h1v2h-1z M515 491h2v1h-2z M526 491h2v1h-2z M536 491h8v1h-8z M514 492h1v1h-1z M528 492h8v1h-8z M476 493h1v2h-1z M513 493h1v1h-1z M512 494h1v1h-1z M477 495h1v2h-1z M511 495h1v1h-1z M510 496h1v1h-1z M478 497h1v1h-1z M509 497h1v1h-1z M479 498h1v2h-1z M508 498h1v1h-1z M507 499h1v1h-1z M480 500h1v1h-1z M506 500h1v1h-1z M481 501h1v2h-1z M505 501h1v2h-1z M482 503h1v1h-1z M504 503h1v1h-1z M483 504h1v1h-1z M503 504h1v2h-1z M484 505h1v1h-1z M485 506h1v1h-1z M502 506h1v1h-1z M486 507h1v1h-1z M500 507h2v1h-2z M487 508h1v1h-1z M499 508h1v1h-1z M488 509h1v1h-1z M497 509h2v1h-2z M489 510h1v1h-1z M495 510h2v1h-2z M490 511h5v1h-5z"/>
<rect x="1" y="26" width="1" height="506" fill="#000" />
<rect x="2" y="204" width="1592" height="2" fill="#ff0000" />
<rect x="1" y="202" width="6" height="6" fill="#ff0000" />
<rect x="3" y="204" width="2" height="2" fill="#fff" />
<rect x="1588" y="202" width="6" height="6" fill="#ff0000" />
<rect x="1590" y="204" width="2" height="2" fill="#fff" />
<rect x="1596" y="199" width="39" height="11" fill="#ff0000" />
<rect x="2" y="274" width="1592" height="2" fill="#ff0000" />
<rect x="1" y="272" width="6" height="6" fill="#ff0000" />
<rect x="3" y="274" width="2" height="2" fill="#fff" />
<rect x="1588" y="272" width="6" height="6" fill="#ff0000" />
<rect x="1590" y="274" width="2" height="2" fill="#fff" />
<rect x="1596" y="269" width="39" height="11" fill="#ff0000" />
<rect x="2" y="340" width="1592" height="2" fill="#00ff00" />
<rect x="1" y="338" width="6" height="6" fill="#00ff00" />
<rect x="3" y="340" width="2" height="2" fill="#fff" />
<rect x="1588" y="338" width="6" height="6" fill="#00ff00" />
<rect x="1590" y="340" width="2" height="2" fill="#fff" />
<rect x="1596" y="335" width="39" height="11" fill="#00ff00" />
<rect x="2" y="422" width="1592" height="2" fill="#0000ff" />
<rect x="1" y="420" width="6" height="6" fill="#0000ff" />
<rect x="3" y="422" width="2" height="2" fill="#fff" />
<rect x="1588" y="420" width="6" height="6" fill="#0000ff" />
<rect x="1590" y="422" width="2" height="2" fill="#fff" />
<rect x="1596" y="417" width="39" height="11" fill="#0000ff" />
<rect x="2" y="504" width="1592" height="2" fill="#0000ff" />
<rect x="1" y="502" width="6" height="6" fill="#0000ff" />
<rect x="3" y="504" width="2" height="2" fill="#fff" />
<rect x="1588" y="502" width="6" height="6" fill="#0000ff" />
<rect x="1590" y="504" width="2" height="2" fill="#fff" />
<rect x="1596" y="499" width="39" height="11" fill="#0000ff" />
<rect x="1596" y="444" width="39" height="11" fill="#000" />
</g>
<text x="1600" y="208.1" font-size="9.9" fill="#fff" stroke="#fff" stroke-width="0.2" textLength="32.94" lengthAdjust="spacingAndGlyphs">1.41010</text>
<text x="1600" y="278.1" font-size="9.9" fill="#fff" stroke="#fff" stroke-width="0.2" textLength="32.94" lengthAdjust="spacingAndGlyphs">1.38447</text>
<text x="1600" y="344.1" font-size="9.9" fill="#fff" stroke="#fff" stroke-width="0.2" textLength="32.94" lengthAdjust="spacingAndGlyphs">1.36029</text>
<text x="1600" y="426.1" font-size="9.9" fill="#fff" stroke="#fff" stroke-width="0.2" textLength="32.94" lengthAdjust="spacingAndGlyphs">1.33026</text>
<text x="1600" y="508.1" font-size="9.9" fill="#fff" stroke="#fff" stroke-width="0.2" textLength="32.94" lengthAdjust="spacingAndGlyphs">1.30022</text>
<text x="1600" y="453.2" font-size="9.9" fill="#fff" stroke="#fff" stroke-width="0.2" textLength="32.94" lengthAdjust="spacingAndGlyphs">1.32078</text>
<path d="M5 33 L12 33 L8.5 37 Z" fill="#000"/>
<text x="17.2" y="38" font-size="9.9" fill="#000" stroke="#000" stroke-width="0.2" textLength="65.6" lengthAdjust="spacingAndGlyphs">USDCAD,Daily</text>
<text x="89.0" y="38" font-size="9.9" fill="#000" stroke="#000" stroke-width="0.2" textLength="32.4" lengthAdjust="spacingAndGlyphs">1.32021</text>
<text x="125.3" y="38" font-size="9.9" fill="#000" stroke="#000" stroke-width="0.2" textLength="32.4" lengthAdjust="spacingAndGlyphs">1.32308</text>
<text x="161.6" y="38" font-size="9.9" fill="#000" stroke="#000" stroke-width="0.2" textLength="32.4" lengthAdjust="spacingAndGlyphs">1.31911</text>
<text x="197.9" y="38" font-size="9.9" fill="#000" stroke="#000" stroke-width="0.2" textLength="32.4" lengthAdjust="spacingAndGlyphs">1.32078</text>
<g shape-rendering="crispEdges">
<line x1="2" x2="1594" y1="561.5" y2="561.5" stroke="#c0c0c0" stroke-dasharray="3 3"/>
<line x1="2" x2="1594" y1="597.5" y2="597.5" stroke="#c0c0c0" stroke-dasharray="3 3"/>
</g>
<path shape-rendering="crispEdges" fill="#1e90ff" d="M742 544h1v1h-1z M741 545h1v1h-1z M743 545h1v1h-1z M725 546h2v1h-2z M740 546h1v1h-1z M744 546h1v2h-1z M723 547h2v1h-2z M727 547h1v2h-1z M739 547h1v1h-1z M714 548h1v2h-1z M722 548h1v1h-1z M738 548h1v1h-1z M745 548h1v1h-1z M715 549h1v1h-1z M720 549h2v1h-2z M728 549h1v2h-1z M737 549h1v1h-1z M746 549h1v1h-1z M713 550h1v2h-1z M716 550h2v1h-2z M719 550h1v1h-1z M736 550h1v1h-1z M747 550h1v2h-1z M718 551h1v1h-1z M729 551h1v2h-1z M735 551h1v1h-1z M712 552h1v2h-1z M732 552h3v1h-3z M748 552h1v1h-1z M757 552h2v1h-2z M613 553h2v1h-2z M730 553h2v1h-2z M749 553h1v2h-1z M755 553h2v1h-2z M759 553h1v1h-1z M611 554h2v1h-2z M614 554h1v1h-1z M711 554h1v2h-1z M752 554h3v1h-3z M760 554h1v1h-1z M596 555h15v1h-15z M615 555h1v3h-1z M678 555h1v1h-1z M750 555h2v1h-2z M761 555h1v1h-1z M593 556h3v1h-3z M677 556h1v1h-1z M679 556h1v1h-1z M710 556h1v2h-1z M762 556h1v1h-1z M591 557h2v1h-2z M676 557h1v2h-1z M680 557h1v1h-1z M763 557h1v2h-1z M590 558h1v1h-1z M616 558h1v2h-1z M681 558h1v1h-1z M709 558h1v2h-1z M588 559h2v1h-2z M675 559h1v1h-1z M682 559h1v1h-1z M764 559h1v2h-1z M587 560h1v1h-1z M617 560h1v3h-1z M674 560h1v1h-1z M683 560h1v1h-1z M708 560h1v2h-1z M580 561h7v1h-7z M673 561h1v2h-1z M684 561h1v1h-1z M765 561h1v2h-1z M577 562h3v1h-3z M685 562h1v1h-1z M707 562h1v2h-1z M575 563h2v1h-2z M618 563h1v2h-1z M672 563h1v1h-1z M686 563h1v2h-1z M701 563h3v1h-3z M766 563h1v3h-1z M2 564h1v1h-1z M573 564h2v1h-2z M671 564h1v2h-1z M699 564h2v1h-2z M704 564h3v1h-3z M3 565h1v2h-1z M571 565h2v1h-2z M619 565h1v2h-1z M687 565h1v2h-1z M696 565h3v1h-3z M18 566h1v2h-1z M334 566h1v2h-1z M349 566h2v1h-2z M568 566h3v1h-3z M669 566h2v1h-2z M694 566h2v1h-2z M767 566h1v3h-1z M4 567h1v2h-1z M16 567h2v1h-2z M313 567h2v1h-2z M335 567h1v1h-1z M347 567h2v1h-2z M351 567h1v1h-1z M566 567h2v1h-2z M620 567h1v1h-1z M667 567h2v1h-2z M688 567h1v2h-1z M693 567h1v2h-1z M15 568h1v1h-1z M19 568h1v2h-1z M311 568h2v1h-2z M315 568h1v2h-1z M333 568h1v2h-1z M336 568h1v1h-1z M341 568h6v1h-6z M352 568h1v1h-1z M565 568h1v1h-1z M621 568h1v2h-1z M666 568h1v1h-1z M5 569h1v2h-1z M14 569h1v1h-1z M172 569h3v1h-3z M185 569h2v1h-2z M309 569h2v1h-2z M337 569h1v1h-1z M339 569h2v1h-2z M353 569h1v1h-1z M554 569h1v1h-1z M564 569h1v1h-1z M664 569h2v1h-2z M689 569h1v2h-1z M692 569h1v1h-1z M768 569h1v3h-1z M13 570h1v1h-1z M20 570h1v2h-1z M29 570h2v1h-2z M168 570h4v1h-4z M175 570h2v1h-2z M183 570h2v1h-2z M187 570h2v1h-2z M296 570h3v1h-3z M307 570h2v1h-2z M316 570h1v2h-1z M332 570h1v2h-1z M338 570h1v1h-1z M354 570h1v1h-1z M374 570h1v1h-1z M553 570h1v1h-1z M555 570h1v1h-1z M563 570h1v1h-1z M622 570h1v1h-1z M663 570h1v1h-1z M691 570h1v2h-1z M6 571h1v1h-1z M12 571h1v1h-1z M27 571h2v1h-2z M31 571h1v1h-1z M64 571h3v1h-3z M166 571h2v1h-2z M177 571h6v1h-6z M189 571h2v1h-2z M294 571h2v1h-2z M299 571h1v1h-1z M305 571h2v1h-2z M355 571h2v1h-2z M360 571h3v1h-3z M372 571h2v1h-2z M375 571h1v1h-1z M552 571h1v1h-1z M556 571h2v1h-2z M560 571h3v1h-3z M623 571h2v1h-2z M628 571h3v1h-3z M662 571h1v2h-1z M690 571h1v2h-1z M7 572h2v1h-2z M11 572h1v1h-1z M21 572h1v2h-1z M26 572h1v1h-1z M32 572h1v1h-1z M58 572h6v1h-6z M66 572h1v1h-1z M166 572h1v1h-1z M190 572h1v1h-1z M293 572h1v2h-1z M300 572h2v1h-2z M303 572h2v1h-2z M317 572h1v2h-1z M321 572h2v1h-2z M331 572h1v2h-1z M357 572h3v1h-3z M363 572h2v1h-2z M371 572h1v1h-1z M376 572h1v1h-1z M551 572h1v1h-1z M558 572h2v1h-2z M625 572h3v1h-3z M631 572h2v1h-2z M769 572h1v3h-1z M790 572h1v1h-1z M858 572h1v1h-1z M9 573h2v1h-2z M24 573h2v1h-2z M33 573h1v1h-1z M57 573h1v1h-1z M67 573h1v3h-1z M165 573h1v3h-1z M191 573h1v2h-1z M302 573h1v1h-1z M319 573h2v1h-2z M323 573h1v1h-1z M365 573h6v1h-6z M377 573h1v1h-1z M550 573h1v1h-1z M633 573h2v1h-2z M642 573h1v1h-1z M661 573h1v3h-1z M782 573h1v1h-1z M788 573h2v1h-2z M791 573h1v1h-1z M857 573h1v2h-1z M859 573h1v1h-1z M22 574h2v1h-2z M34 574h2v1h-2z M46 574h1v1h-1z M56 574h1v1h-1z M118 574h1v1h-1z M292 574h1v2h-1z M318 574h1v1h-1z M324 574h1v2h-1z M330 574h1v1h-1z M378 574h1v1h-1z M549 574h1v2h-1z M635 574h1v1h-1z M640 574h2v1h-2z M643 574h1v1h-1z M781 574h1v2h-1z M783 574h2v1h-2z M787 574h1v1h-1z M792 574h1v1h-1z M800 574h3v1h-3z M840 574h3v1h-3z M860 574h1v1h-1z M22 575h1v1h-1z M36 575h3v1h-3z M44 575h2v1h-2z M47 575h1v1h-1z M55 575h1v1h-1z M102 575h5v1h-5z M117 575h1v1h-1z M119 575h1v1h-1z M142 575h1v1h-1z M192 575h1v2h-1z M328 575h2v1h-2z M379 575h1v2h-1z M636 575h2v1h-2z M639 575h1v1h-1z M644 575h2v1h-2z M770 575h1v2h-1z M772 575h3v1h-3z M785 575h2v1h-2z M793 575h1v1h-1z M796 575h4v1h-4z M803 575h2v1h-2z M838 575h2v1h-2z M843 575h1v1h-1z M856 575h1v1h-1z M861 575h1v1h-1z M910 575h1v1h-1z M1085 575h2v1h-2z M39 576h2v1h-2z M43 576h1v1h-1z M48 576h2v1h-2z M52 576h3v1h-3z M68 576h1v3h-1z M102 576h1v1h-1z M107 576h1v1h-1z M116 576h1v2h-1z M120 576h1v1h-1z M128 576h7v1h-7z M141 576h1v1h-1z M143 576h1v1h-1z M164 576h1v3h-1z M286 576h1v1h-1z M291 576h1v2h-1z M325 576h1v1h-1z M327 576h1v1h-1z M548 576h1v2h-1z M638 576h1v1h-1z M646 576h1v1h-1z M660 576h1v2h-1z M771 576h1v1h-1z M775 576h1v1h-1z M780 576h1v2h-1z M794 576h2v1h-2z M805 576h2v1h-2z M838 576h1v1h-1z M844 576h1v2h-1z M855 576h1v2h-1z M862 576h1v1h-1z M894 576h1v2h-1z M909 576h1v1h-1z M911 576h1v2h-1z M934 576h2v1h-2z M940 576h7v1h-7z M1083 576h2v1h-2z M1087 576h1v1h-1z M1093 576h2v1h-2z M41 577h2v1h-2z M50 577h2v1h-2z M101 577h1v2h-1z M108 577h1v2h-1z M121 577h1v1h-1z M124 577h4v1h-4z M135 577h1v1h-1z M140 577h1v1h-1z M144 577h2v1h-2z M193 577h1v2h-1z M262 577h1v3h-1z M284 577h2v1h-2z M287 577h2v1h-2z M326 577h1v1h-1z M380 577h1v2h-1z M390 577h1v2h-1z M647 577h1v1h-1z M776 577h1v2h-1z M807 577h1v1h-1z M837 577h1v2h-1z M863 577h1v1h-1z M870 577h5v1h-5z M895 577h2v1h-2z M900 577h3v1h-3z M908 577h1v2h-1z M933 577h1v1h-1z M936 577h4v1h-4z M947 577h1v2h-1z M1082 577h1v1h-1z M1088 577h2v1h-2z M1091 577h2v1h-2z M1095 577h1v2h-1z M115 578h1v1h-1z M122 578h2v1h-2z M136 578h2v1h-2z M139 578h1v1h-1z M146 578h1v1h-1z M263 578h1v1h-1z M283 578h1v1h-1z M289 578h2v1h-2z M391 578h2v1h-2z M506 578h1v2h-1z M547 578h1v2h-1z M648 578h1v1h-1z M659 578h1v3h-1z M779 578h1v2h-1z M808 578h1v2h-1z M845 578h1v1h-1z M853 578h2v1h-2z M864 578h1v1h-1z M868 578h2v1h-2z M875 578h1v1h-1z M893 578h1v2h-1z M897 578h3v1h-3z M903 578h1v1h-1z M912 578h1v2h-1z M932 578h1v1h-1z M1081 578h1v1h-1z M1090 578h1v1h-1z M69 579h1v3h-1z M100 579h1v2h-1z M109 579h1v1h-1z M112 579h3v1h-3z M138 579h1v1h-1z M147 579h2v1h-2z M163 579h1v3h-1z M194 579h1v3h-1z M264 579h1v2h-1z M281 579h2v1h-2z M381 579h1v2h-1z M389 579h1v3h-1z M393 579h2v1h-2z M507 579h1v2h-1z M649 579h1v1h-1z M777 579h1v1h-1z M836 579h1v2h-1z M846 579h2v1h-2z M851 579h2v1h-2z M865 579h1v1h-1z M867 579h1v1h-1z M876 579h2v1h-2z M904 579h2v1h-2z M907 579h1v1h-1z M931 579h1v1h-1z M948 579h1v2h-1z M966 579h2v1h-2z M1080 579h1v1h-1z M1096 579h1v1h-1z M110 580h2v1h-2z M149 580h3v1h-3z M261 580h1v4h-1z M279 580h2v1h-2z M395 580h1v1h-1z M505 580h1v2h-1z M537 580h2v1h-2z M546 580h1v1h-1z M650 580h5v1h-5z M778 580h1v1h-1z M809 580h1v1h-1z M812 580h4v1h-4z M848 580h3v1h-3z M866 580h1v1h-1z M878 580h1v1h-1z M892 580h1v3h-1z M906 580h1v1h-1z M913 580h1v2h-1z M926 580h5v1h-5z M965 580h1v1h-1z M968 580h3v1h-3z M1079 580h1v1h-1z M1097 580h1v2h-1z M1146 580h1v1h-1z M99 581h1v2h-1z M152 581h7v1h-7z M265 581h1v1h-1z M268 581h11v1h-11z M382 581h1v1h-1z M396 581h2v1h-2z M400 581h3v1h-3z M508 581h1v1h-1z M535 581h2v1h-2z M539 581h1v1h-1z M544 581h2v1h-2z M655 581h2v1h-2z M658 581h1v2h-1z M810 581h2v1h-2z M816 581h4v1h-4z M835 581h1v2h-1z M879 581h2v1h-2z M925 581h1v1h-1z M949 581h1v2h-1z M964 581h1v1h-1z M971 581h2v1h-2z M1078 581h1v2h-1z M1122 581h1v1h-1z M1132 581h7v1h-7z M1144 581h2v1h-2z M1147 581h1v2h-1z M1158 581h5v1h-5z M70 582h1v2h-1z M159 582h2v1h-2z M162 582h1v2h-1z M195 582h1v3h-1z M266 582h2v1h-2z M383 582h1v2h-1z M388 582h1v3h-1z M398 582h2v1h-2z M403 582h2v1h-2z M504 582h1v3h-1z M509 582h1v2h-1z M521 582h2v1h-2z M534 582h1v1h-1z M540 582h2v1h-2z M543 582h1v1h-1z M657 582h1v1h-1z M820 582h11v1h-11z M881 582h2v1h-2z M914 582h1v2h-1z M924 582h1v1h-1z M963 582h1v1h-1z M973 582h2v1h-2z M1098 582h2v1h-2z M1104 582h3v1h-3z M1121 582h1v1h-1z M1123 582h1v1h-1z M1130 582h2v1h-2z M1139 582h2v1h-2z M1143 582h1v1h-1z M1156 582h2v1h-2z M1163 582h1v1h-1z M71 583h1v1h-1z M96 583h3v1h-3z M161 583h1v1h-1z M206 583h1v2h-1z M405 583h2v1h-2z M512 583h4v1h-4z M519 583h2v1h-2z M523 583h2v1h-2z M532 583h2v1h-2z M542 583h1v1h-1z M831 583h2v1h-2z M834 583h1v2h-1z M883 583h1v1h-1z M891 583h1v2h-1z M923 583h1v1h-1z M950 583h1v1h-1z M961 583h2v1h-2z M975 583h1v2h-1z M1041 583h6v1h-6z M1060 583h4v1h-4z M1077 583h1v2h-1z M1100 583h4v1h-4z M1107 583h2v1h-2z M1120 583h1v2h-1z M1124 583h1v1h-1z M1128 583h2v1h-2z M1141 583h2v1h-2z M1148 583h1v1h-1z M1155 583h1v1h-1z M1164 583h1v1h-1z M1230 583h5v1h-5z M72 584h3v1h-3z M94 584h2v1h-2z M207 584h1v1h-1z M260 584h1v4h-1z M384 584h1v2h-1z M407 584h1v1h-1z M440 584h7v1h-7z M510 584h2v1h-2z M516 584h3v1h-3z M525 584h3v1h-3z M531 584h1v1h-1z M833 584h1v1h-1z M884 584h2v1h-2z M915 584h2v1h-2z M920 584h3v1h-3z M951 584h1v1h-1z M959 584h2v1h-2z M1039 584h2v1h-2z M1047 584h1v1h-1z M1056 584h4v1h-4z M1064 584h3v1h-3z M1109 584h3v1h-3z M1125 584h1v1h-1z M1127 584h1v1h-1z M1149 584h1v2h-1z M1153 584h2v1h-2z M1165 584h1v1h-1z M1202 584h1v2h-1z M1230 584h1v1h-1z M1235 584h1v1h-1z M75 585h1v2h-1z M94 585h1v1h-1z M196 585h1v3h-1z M205 585h1v2h-1z M208 585h1v1h-1z M387 585h1v3h-1z M408 585h1v1h-1z M413 585h2v1h-2z M438 585h2v1h-2z M447 585h2v1h-2z M452 585h3v1h-3z M503 585h1v2h-1z M528 585h3v1h-3z M886 585h2v1h-2z M890 585h1v2h-1z M917 585h3v1h-3z M952 585h1v1h-1z M957 585h2v1h-2z M976 585h1v2h-1z M1036 585h3v1h-3z M1048 585h2v1h-2z M1052 585h4v1h-4z M1067 585h1v1h-1z M1076 585h1v2h-1z M1112 585h4v1h-4z M1119 585h1v1h-1z M1126 585h1v1h-1z M1151 585h2v1h-2z M1166 585h1v1h-1z M1203 585h1v1h-1z M1229 585h1v2h-1z M1236 585h2v1h-2z M93 586h1v2h-1z M209 586h1v1h-1z M385 586h1v2h-1z M409 586h1v1h-1z M411 586h2v1h-2z M415 586h2v1h-2z M437 586h1v2h-1z M449 586h3v1h-3z M455 586h1v2h-1z M888 586h2v1h-2z M953 586h1v1h-1z M955 586h2v1h-2z M1034 586h2v1h-2z M1050 586h2v1h-2z M1068 586h2v1h-2z M1116 586h3v1h-3z M1150 586h1v1h-1z M1167 586h1v2h-1z M1201 586h1v2h-1z M1204 586h1v2h-1z M1214 586h1v1h-1z M1238 586h1v1h-1z M76 587h1v2h-1z M204 587h1v2h-1z M210 587h2v1h-2z M410 587h1v1h-1z M417 587h2v1h-2z M502 587h1v2h-1z M954 587h1v1h-1z M977 587h1v2h-1z M1034 587h1v1h-1z M1070 587h1v1h-1z M1075 587h1v2h-1z M1212 587h2v1h-2z M1215 587h1v1h-1z M1228 587h1v2h-1z M1239 587h1v1h-1z M92 588h1v2h-1z M197 588h1v3h-1z M212 588h3v1h-3z M259 588h1v4h-1z M386 588h1v2h-1z M419 588h1v1h-1z M436 588h1v1h-1z M456 588h1v1h-1z M990 588h1v1h-1z M1033 588h1v3h-1z M1071 588h2v1h-2z M1168 588h1v1h-1z M1200 588h1v2h-1z M1205 588h1v1h-1z M1211 588h1v1h-1z M1216 588h2v1h-2z M1240 588h2v1h-2z M77 589h1v2h-1z M203 589h1v2h-1z M215 589h1v1h-1z M420 589h1v1h-1z M425 589h2v1h-2z M435 589h1v2h-1z M457 589h1v2h-1z M500 589h2v1h-2z M978 589h2v1h-2z M988 589h2v1h-2z M991 589h2v1h-2z M1073 589h2v1h-2z M1169 589h1v2h-1z M1182 589h2v1h-2z M1206 589h5v1h-5z M1218 589h1v1h-1z M1227 589h1v2h-1z M1242 589h1v1h-1z M1256 589h3v1h-3z M80 590h3v1h-3z M91 590h1v2h-1z M216 590h1v2h-1z M421 590h1v1h-1z M423 590h2v1h-2z M427 590h1v1h-1z M499 590h1v1h-1z M980 590h4v1h-4z M987 590h1v1h-1z M993 590h2v1h-2z M1181 590h1v2h-1z M1184 590h3v1h-3z M1199 590h1v2h-1z M1219 590h1v2h-1z M1243 590h1v1h-1z M1254 590h2v1h-2z M1259 590h1v1h-1z M78 591h2v1h-2z M83 591h1v1h-1z M198 591h1v2h-1z M200 591h3v1h-3z M422 591h1v1h-1z M428 591h1v2h-1z M434 591h1v1h-1z M458 591h1v1h-1z M498 591h1v2h-1z M984 591h3v1h-3z M995 591h1v2h-1z M1032 591h1v3h-1z M1170 591h1v1h-1z M1187 591h2v1h-2z M1226 591h1v2h-1z M1244 591h2v1h-2z M1253 591h1v1h-1z M1260 591h1v1h-1z M84 592h2v1h-2z M88 592h3v1h-3z M199 592h1v1h-1z M217 592h1v1h-1z M258 592h1v3h-1z M432 592h2v1h-2z M459 592h1v1h-1z M1171 592h2v1h-2z M1180 592h1v2h-1z M1189 592h3v1h-3z M1196 592h3v1h-3z M1220 592h1v2h-1z M1246 592h1v1h-1z M1252 592h1v1h-1z M1261 592h1v1h-1z M1264 592h3v1h-3z M86 593h2v1h-2z M218 593h2v1h-2z M429 593h1v1h-1z M431 593h1v1h-1z M460 593h1v1h-1z M497 593h1v2h-1z M996 593h1v1h-1z M1173 593h2v1h-2z M1192 593h4v1h-4z M1225 593h1v1h-1z M1247 593h2v1h-2z M1251 593h1v1h-1z M1262 593h2v1h-2z M220 594h4v1h-4z M430 594h1v1h-1z M461 594h1v1h-1z M997 594h1v2h-1z M1031 594h1v3h-1z M1175 594h1v1h-1z M1179 594h1v2h-1z M1221 594h1v2h-1z M1224 594h1v1h-1z M1249 594h2v1h-2z M224 595h4v1h-4z M256 595h2v1h-2z M462 595h2v1h-2z M496 595h1v2h-1z M1176 595h2v1h-2z M1223 595h1v1h-1z M228 596h3v1h-3z M237 596h3v1h-3z M255 596h1v1h-1z M464 596h3v1h-3z M998 596h1v1h-1z M1178 596h1v1h-1z M1222 596h1v1h-1z M231 597h2v1h-2z M235 597h2v1h-2z M240 597h3v1h-3z M253 597h2v1h-2z M467 597h2v1h-2z M495 597h1v2h-1z M999 597h1v1h-1z M1026 597h2v1h-2z M1030 597h1v2h-1z M233 598h2v1h-2z M243 598h2v1h-2z M251 598h2v1h-2z M469 598h2v1h-2z M1000 598h2v1h-2z M1009 598h2v1h-2z M1025 598h1v1h-1z M1028 598h2v1h-2z M245 599h6v1h-6z M471 599h1v2h-1z M488 599h4v1h-4z M494 599h1v2h-1z M1002 599h2v1h-2z M1007 599h2v1h-2z M1011 599h1v1h-1z M1017 599h2v1h-2z M1024 599h1v1h-1z M478 600h2v1h-2z M484 600h4v1h-4z M492 600h2v1h-2z M1004 600h3v1h-3z M1012 600h2v1h-2z M1015 600h2v1h-2z M1019 600h2v1h-2z M1023 600h1v1h-1z M472 601h1v1h-1z M477 601h1v1h-1z M480 601h4v1h-4z M1014 601h1v1h-1z M1021 601h2v1h-2z M473 602h1v2h-1z M476 602h1v1h-1z M475 603h1v1h-1z M474 604h1v1h-1z"/>
<text x="6.1" y="545.9" font-size="9.9" fill="#000" stroke="#000" stroke-width="0.2" textLength="67.9" lengthAdjust="spacingAndGlyphs">RSI(14) 35.3932</text>
<g shape-rendering="crispEdges">
<path fill="#c0c0c0" d="M2 680h1v8h-1z M6 680h1v8h-1z M10 681h1v7h-1z M14 681h1v7h-1z M18 680h1v8h-1z M22 681h1v7h-1z M26 681h1v7h-1z M30 680h1v8h-1z M34 681h1v7h-1z M38 681h1v7h-1z M42 682h1v6h-1z M46 682h1v6h-1z M50 683h1v5h-1z M54 683h1v5h-1z M58 683h1v5h-1z M62 683h1v5h-1z M66 682h1v6h-1z M70 683h1v5h-1z M74 685h1v3h-1z M78 686h1v2h-1z M82 687h1v2h-1z M86 687h1v3h-1z M90 687h1v4h-1z M94 687h1v4h-1z M98 687h1v4h-1z M102 687h1v3h-1z M106 687h1v2h-1z M110 687h1v2h-1z M114 687h1v2h-1z M118 687h1v1h-1z M122 687h1v1h-1z M126 687h1v1h-1z M130 686h1v2h-1z M134 686h1v2h-1z M138 686h1v2h-1z M142 686h1v2h-1z M146 686h1v2h-1z M150 686h1v2h-1z M154 686h1v2h-1z M158 687h1v1h-1z M162 687h1v1h-1z M166 686h1v2h-1z M170 685h1v3h-1z M174 685h1v3h-1z M178 684h1v4h-1z M182 684h1v4h-1z M186 683h1v5h-1z M190 683h1v5h-1z M194 684h1v4h-1z M198 686h1v2h-1z M202 687h1v1h-1z M206 687h1v2h-1z M210 687h1v3h-1z M214 687h1v3h-1z M218 687h1v5h-1z M222 687h1v6h-1z M226 687h1v7h-1z M230 687h1v8h-1z M234 687h1v9h-1z M238 687h1v9h-1z M242 687h1v10h-1z M246 687h1v10h-1z M250 687h1v10h-1z M254 687h1v10h-1z M258 687h1v10h-1z M262 687h1v8h-1z M266 687h1v8h-1z M270 687h1v7h-1z M274 687h1v6h-1z M278 687h1v5h-1z M282 687h1v5h-1z M286 687h1v4h-1z M290 687h1v3h-1z M294 687h1v2h-1z M298 687h1v1h-1z M302 686h1v2h-1z M306 686h1v2h-1z M310 685h1v3h-1z M314 684h1v4h-1z M318 684h1v4h-1z M322 684h1v4h-1z M326 684h1v4h-1z M330 684h1v4h-1z M334 683h1v5h-1z M338 683h1v5h-1z M342 682h1v6h-1z M346 682h1v6h-1z M350 681h1v7h-1z M354 681h1v7h-1z M358 681h1v7h-1z M362 681h1v7h-1z M366 682h1v6h-1z M370 682h1v6h-1z M374 682h1v6h-1z M378 682h1v6h-1z M382 683h1v5h-1z M386 685h1v3h-1z M390 685h1v3h-1z M394 685h1v3h-1z M398 686h1v2h-1z M402 686h1v2h-1z M406 687h1v1h-1z M410 687h1v1h-1z M414 687h1v2h-1z M418 687h1v3h-1z M422 687h1v4h-1z M426 687h1v4h-1z M430 687h1v5h-1z M434 687h1v6h-1z M438 687h1v6h-1z M442 687h1v5h-1z M446 687h1v5h-1z M450 687h1v5h-1z M454 687h1v5h-1z M458 687h1v5h-1z M462 687h1v6h-1z M466 687h1v7h-1z M470 687h1v8h-1z M474 687h1v9h-1z M478 687h1v10h-1z M482 687h1v11h-1z M486 687h1v12h-1z M490 687h1v12h-1z M494 687h1v12h-1z M498 687h1v11h-1z M502 687h1v11h-1z M506 687h1v9h-1z M510 687h1v8h-1z M514 687h1v7h-1z M518 687h1v7h-1z M522 687h1v6h-1z M526 687h1v6h-1z M530 687h1v6h-1z M534 687h1v5h-1z M538 687h1v5h-1z M542 687h1v4h-1z M546 687h1v4h-1z M550 687h1v3h-1z M554 687h1v1h-1z M558 687h1v1h-1z M562 686h1v2h-1z M566 685h1v3h-1z M570 684h1v4h-1z M574 683h1v5h-1z M578 682h1v6h-1z M582 681h1v7h-1z M586 680h1v8h-1z M590 680h1v8h-1z M594 679h1v9h-1z M598 678h1v10h-1z M602 677h1v11h-1z M606 677h1v11h-1z M610 677h1v11h-1z M614 677h1v11h-1z M618 677h1v11h-1z M622 678h1v10h-1z M626 679h1v9h-1z M630 679h1v9h-1z M634 680h1v8h-1z M638 681h1v7h-1z M642 681h1v7h-1z M646 682h1v6h-1z M650 683h1v5h-1z M654 684h1v4h-1z M658 684h1v4h-1z M662 684h1v4h-1z M666 684h1v4h-1z M670 683h1v5h-1z M674 682h1v6h-1z M678 680h1v8h-1z M682 679h1v9h-1z M686 679h1v9h-1z M690 679h1v9h-1z M694 679h1v9h-1z M698 679h1v9h-1z M702 678h1v10h-1z M706 678h1v10h-1z M710 676h1v12h-1z M714 672h1v16h-1z M718 669h1v19h-1z M722 665h1v23h-1z M726 660h1v28h-1z M730 658h1v30h-1z M734 656h1v32h-1z M738 651h1v37h-1z M742 643h1v45h-1z M746 639h1v49h-1z M750 637h1v51h-1z M754 635h1v53h-1z M758 633h1v55h-1z M762 633h1v55h-1z M766 635h1v53h-1z M770 642h1v46h-1z M774 647h1v41h-1z M778 653h1v35h-1z M782 655h1v33h-1z M786 658h1v30h-1z M790 659h1v29h-1z M794 662h1v26h-1z M798 664h1v24h-1z M802 666h1v22h-1z M806 668h1v20h-1z M810 671h1v17h-1z M814 674h1v14h-1z M818 677h1v11h-1z M822 679h1v9h-1z M826 681h1v7h-1z M830 683h1v5h-1z M834 685h1v3h-1z M838 684h1v4h-1z M842 683h1v5h-1z M846 683h1v5h-1z M850 684h1v4h-1z M854 684h1v4h-1z M858 682h1v6h-1z M862 681h1v7h-1z M866 682h1v6h-1z M870 682h1v6h-1z M874 682h1v6h-1z M878 683h1v5h-1z M882 685h1v3h-1z M886 687h1v1h-1z M890 687h1v3h-1z M894 687h1v1h-1z M898 687h1v1h-1z M902 686h1v2h-1z M906 686h1v2h-1z M910 685h1v3h-1z M914 686h1v2h-1z M918 687h1v2h-1z M922 687h1v4h-1z M926 687h1v3h-1z M930 687h1v3h-1z M934 687h1v2h-1z M938 687h1v1h-1z M942 686h1v2h-1z M946 685h1v3h-1z M950 687h1v1h-1z M954 687h1v3h-1z M958 687h1v4h-1z M962 687h1v5h-1z M966 687h1v4h-1z M970 687h1v4h-1z M974 687h1v4h-1z M978 687h1v6h-1z M982 687h1v8h-1z M986 687h1v10h-1z M990 687h1v11h-1z M994 687h1v12h-1z M998 687h1v15h-1z M1002 687h1v18h-1z M1006 687h1v21h-1z M1010 687h1v23h-1z M1014 687h1v26h-1z M1018 687h1v27h-1z M1022 687h1v28h-1z M1026 687h1v29h-1z M1030 687h1v29h-1z M1034 687h1v27h-1z M1038 687h1v24h-1z M1042 687h1v21h-1z M1046 687h1v19h-1z M1050 687h1v18h-1z M1054 687h1v17h-1z M1058 687h1v15h-1z M1062 687h1v14h-1z M1066 687h1v12h-1z M1070 687h1v12h-1z M1074 687h1v12h-1z M1078 687h1v11h-1z M1082 687h1v9h-1z M1086 687h1v7h-1z M1090 687h1v5h-1z M1094 687h1v4h-1z M1098 687h1v4h-1z M1102 687h1v4h-1z M1106 687h1v4h-1z M1110 687h1v5h-1z M1114 687h1v5h-1z M1118 687h1v5h-1z M1122 687h1v5h-1z M1126 687h1v5h-1z M1130 687h1v5h-1z M1134 687h1v5h-1z M1138 687h1v4h-1z M1142 687h1v4h-1z M1146 687h1v4h-1z M1150 687h1v5h-1z M1154 687h1v5h-1z M1158 687h1v4h-1z M1162 687h1v4h-1z M1166 687h1v4h-1z M1170 687h1v6h-1z M1174 687h1v8h-1z M1178 687h1v9h-1z M1182 687h1v10h-1z M1186 687h1v10h-1z M1190 687h1v11h-1z M1194 687h1v11h-1z M1198 687h1v12h-1z M1202 687h1v11h-1z M1206 687h1v11h-1z M1210 687h1v11h-1z M1214 687h1v10h-1z M1218 687h1v10h-1z M1222 687h1v12h-1z M1226 687h1v13h-1z M1230 687h1v11h-1z M1234 687h1v10h-1z M1238 687h1v10h-1z M1242 687h1v11h-1z M1246 687h1v11h-1z M1250 687h1v13h-1z M1254 687h1v13h-1z M1258 687h1v13h-1z M1262 687h1v13h-1z M1266 687h1v13h-1z"/>
</g>
<path shape-rendering="crispEdges" fill="#ff0000" d="M772 638h1v1h-1z M770 639h2v1h-2z M776 639h3v1h-3z M766 640h1v1h-1z M764 641h2v1h-2z M782 641h1v1h-1z M783 642h2v1h-2z M760 644h1v1h-1z M759 645h1v1h-1z M788 645h2v1h-2z M758 646h1v1h-1z M790 646h1v1h-1z M754 649h1v1h-1z M794 649h1v1h-1z M753 650h1v1h-1z M795 650h1v1h-1z M752 651h1v1h-1z M796 651h1v1h-1z M748 655h1v1h-1z M800 655h2v1h-2z M747 656h1v1h-1z M802 656h1v1h-1z M746 657h1v1h-1z M806 659h1v1h-1z M807 660h1v1h-1z M742 661h1v1h-1z M808 661h1v1h-1z M741 662h1v1h-1z M740 663h1v1h-1z M812 663h1v1h-1z M813 664h2v1h-2z M736 666h1v1h-1z M735 667h1v1h-1z M818 667h1v1h-1z M734 668h1v1h-1z M819 668h2v1h-2z M730 670h1v1h-1z M824 670h1v1h-1z M728 671h2v1h-2z M825 671h2v1h-2z M723 674h2v1h-2z M830 674h1v1h-1z M722 675h1v1h-1z M831 675h2v1h-2z M717 676h2v1h-2z M716 677h1v1h-1z M836 677h1v1h-1z M614 678h3v1h-3z M620 678h3v1h-3z M626 678h3v1h-3z M632 678h3v1h-3z M638 678h2v1h-2z M712 678h1v1h-1z M837 678h2v1h-2z M608 679h3v1h-3z M640 679h1v1h-1z M644 679h3v1h-3z M704 679h3v1h-3z M710 679h2v1h-2z M32 680h3v1h-3z M602 680h3v1h-3z M650 680h2v1h-2z M698 680h3v1h-3z M842 680h2v1h-2z M4 681h1v1h-1z M8 681h3v1h-3z M14 681h3v1h-3z M20 681h3v1h-3z M26 681h3v1h-3z M38 681h3v1h-3z M44 681h3v1h-3z M50 681h3v1h-3z M596 681h3v1h-3z M652 681h1v1h-1z M692 681h3v1h-3z M844 681h1v1h-1z M2 682h2v1h-2z M56 682h3v1h-3z M62 682h3v1h-3z M68 682h3v1h-3z M356 682h3v1h-3z M362 682h3v1h-3z M368 682h3v1h-3z M374 682h3v1h-3z M380 682h3v1h-3z M386 682h2v1h-2z M592 682h1v1h-1z M656 682h3v1h-3z M662 682h2v1h-2z M686 682h3v1h-3z M848 682h3v1h-3z M74 683h3v1h-3z M344 683h3v1h-3z M350 683h3v1h-3z M388 683h1v1h-1z M392 683h3v1h-3z M590 683h2v1h-2z M664 683h1v1h-1z M668 683h3v1h-3z M674 683h3v1h-3z M680 683h3v1h-3z M854 683h3v1h-3z M860 683h3v1h-3z M866 683h3v1h-3z M872 683h3v1h-3z M878 683h3v1h-3z M884 683h3v1h-3z M80 684h3v1h-3z M332 684h3v1h-3z M338 684h3v1h-3z M398 684h3v1h-3z M584 684h3v1h-3z M890 684h3v1h-3z M86 685h3v1h-3z M184 685h1v1h-1z M188 685h3v1h-3z M194 685h3v1h-3z M200 685h3v1h-3z M206 685h3v1h-3z M326 685h3v1h-3z M404 685h3v1h-3z M410 685h2v1h-2z M580 685h1v1h-1z M896 685h3v1h-3z M902 685h2v1h-2z M92 686h3v1h-3z M146 686h3v1h-3z M152 686h3v1h-3z M158 686h3v1h-3z M164 686h3v1h-3z M170 686h3v1h-3z M176 686h3v1h-3z M182 686h2v1h-2z M212 686h3v1h-3z M320 686h3v1h-3z M412 686h1v1h-1z M416 686h3v1h-3z M578 686h2v1h-2z M904 686h1v1h-1z M908 686h3v1h-3z M914 686h2v1h-2z M98 687h2v1h-2z M134 687h3v1h-3z M140 687h3v1h-3z M218 687h2v1h-2z M314 687h3v1h-3z M422 687h3v1h-3z M572 687h3v1h-3z M916 687h1v1h-1z M920 687h3v1h-3z M926 687h3v1h-3z M100 688h1v1h-1z M104 688h3v1h-3z M124 688h1v1h-1z M128 688h3v1h-3z M220 688h1v1h-1z M308 688h3v1h-3z M428 688h3v1h-3z M566 688h3v1h-3z M932 688h3v1h-3z M938 688h3v1h-3z M944 688h3v1h-3z M950 688h3v1h-3z M956 688h3v1h-3z M962 688h3v1h-3z M968 688h3v1h-3z M110 689h3v1h-3z M116 689h3v1h-3z M122 689h2v1h-2z M224 689h3v1h-3z M304 689h1v1h-1z M434 689h3v1h-3z M560 689h3v1h-3z M974 689h3v1h-3z M230 690h2v1h-2z M296 690h3v1h-3z M302 690h2v1h-2z M440 690h3v1h-3z M446 690h2v1h-2z M554 690h3v1h-3z M980 690h3v1h-3z M1160 690h3v1h-3z M1166 690h3v1h-3z M232 691h1v1h-1z M292 691h1v1h-1z M448 691h1v1h-1z M452 691h3v1h-3z M458 691h3v1h-3z M548 691h3v1h-3z M986 691h2v1h-2z M1112 691h3v1h-3z M1118 691h3v1h-3z M1124 691h3v1h-3z M1130 691h3v1h-3z M1136 691h3v1h-3z M1142 691h3v1h-3z M1148 691h3v1h-3z M1154 691h3v1h-3z M1172 691h3v1h-3z M1178 691h2v1h-2z M236 692h3v1h-3z M242 692h2v1h-2z M290 692h2v1h-2z M464 692h3v1h-3z M470 692h3v1h-3z M542 692h3v1h-3z M988 692h1v1h-1z M1108 692h1v1h-1z M1180 692h1v1h-1z M244 693h1v1h-1z M284 693h3v1h-3z M476 693h3v1h-3z M482 693h2v1h-2z M532 693h1v1h-1z M536 693h3v1h-3z M992 693h3v1h-3z M1106 693h2v1h-2z M1184 693h3v1h-3z M1190 693h2v1h-2z M248 694h3v1h-3z M278 694h3v1h-3z M484 694h1v1h-1z M530 694h2v1h-2z M998 694h1v1h-1z M1100 694h3v1h-3z M1192 694h1v1h-1z M254 695h3v1h-3z M260 695h3v1h-3z M266 695h3v1h-3z M272 695h3v1h-3z M488 695h3v1h-3z M520 695h1v1h-1z M524 695h3v1h-3z M999 695h2v1h-2z M1095 695h2v1h-2z M1196 695h3v1h-3z M494 696h3v1h-3z M512 696h3v1h-3z M518 696h2v1h-2z M1094 696h1v1h-1z M1202 696h3v1h-3z M500 697h3v1h-3z M506 697h3v1h-3z M1004 697h1v1h-1z M1088 697h3v1h-3z M1208 697h3v1h-3z M1214 697h3v1h-3z M1220 697h3v1h-3z M1226 697h3v1h-3z M1232 697h3v1h-3z M1238 697h3v1h-3z M1244 697h3v1h-3z M1250 697h2v1h-2z M1005 698h2v1h-2z M1084 698h1v1h-1z M1252 698h1v1h-1z M1256 698h3v1h-3z M1262 698h3v1h-3z M1082 699h2v1h-2z M1010 700h1v1h-1z M1077 700h2v1h-2z M1011 701h2v1h-2z M1076 701h1v1h-1z M1072 702h1v1h-1z M1016 703h1v1h-1z M1070 703h2v1h-2z M1017 704h2v1h-2z M1064 705h3v1h-3z M1022 706h1v1h-1z M1023 707h2v1h-2z M1059 707h2v1h-2z M1058 708h1v1h-1z M1028 709h1v1h-1z M1029 710h2v1h-2z M1052 710h3v1h-3z M1034 711h2v1h-2z M1048 711h1v1h-1z M1036 712h1v1h-1z M1040 712h3v1h-3z M1046 712h2v1h-2z"/>
<text x="6.1" y="640" font-size="9.9" fill="#000" stroke="#000" stroke-width="0.2" textLength="154.2" lengthAdjust="spacingAndGlyphs">MACD(12,26,9) -0.006985 -0.006120</text>
<rect x="2" y="720" width="1" height="3" fill="#000" />
<text x="1.6" y="731.8" font-size="9.9" fill="#000" stroke="#000" stroke-width="0.2" textLength="52.4" lengthAdjust="spacingAndGlyphs">15 Aug 2019</text>
<rect x="66" y="720" width="1" height="3" fill="#000" />
<text x="65.6" y="731.8" font-size="9.9" fill="#000" stroke="#000" stroke-width="0.2" textLength="46" lengthAdjust="spacingAndGlyphs">3 Sep 2019</text>
<rect x="130" y="720" width="1" height="3" fill="#000" />
<text x="129.6" y="731.8" font-size="9.9" fill="#000" stroke="#000" stroke-width="0.2" textLength="51.5" lengthAdjust="spacingAndGlyphs">21 Sep 2019</text>
<rect x="194" y="720" width="1" height="3" fill="#000" />
<text x="193.6" y="731.8" font-size="9.9" fill="#000" stroke="#000" stroke-width="0.2" textLength="50.5" lengthAdjust="spacingAndGlyphs">10 Oct 2019</text>
<rect x="258" y="720" width="1" height="3" fill="#000" />
<text x="257.6" y="731.8" font-size="9.9" fill="#000" stroke="#000" stroke-width="0.2" textLength="49.8" lengthAdjust="spacingAndGlyphs">29 Oct 2019</text>
<rect x="322" y="720" width="1" height="3" fill="#000" />
<text x="321.6" y="731.8" font-size="9.9" fill="#000" stroke="#000" stroke-width="0.2" textLength="53.5" lengthAdjust="spacingAndGlyphs">16 Nov 2019</text>
<rect x="386" y="720" width="1" height="3" fill="#000" />
<text x="385.6" y="731.8" font-size="9.9" fill="#000" stroke="#000" stroke-width="0.2" textLength="46.5" lengthAdjust="spacingAndGlyphs">5 Dec 2019</text>
<rect x="450" y="720" width="1" height="3" fill="#000" />
<text x="449.6" y="731.8" font-size="9.9" fill="#000" stroke="#000" stroke-width="0.2" textLength="51.5" lengthAdjust="spacingAndGlyphs">24 Dec 2019</text>
<rect x="514" y="720" width="1" height="3" fill="#000" />
<text x="513.6" y="731.8" font-size="9.9" fill="#000" stroke="#000" stroke-width="0.2" textLength="49.5" lengthAdjust="spacingAndGlyphs">11 Jan 2020</text>
<rect x="578" y="720" width="1" height="3" fill="#000" />
<text x="577.6" y="731.8" font-size="9.9" fill="#000" stroke="#000" stroke-width="0.2" textLength="49.5" lengthAdjust="spacingAndGlyphs">30 Jan 2020</text>
<rect x="642" y="720" width="1" height="3" fill="#000" />
<text x="641.6" y="731.8" font-size="9.9" fill="#000" stroke="#000" stroke-width="0.2" textLength="51.5" lengthAdjust="spacingAndGlyphs">18 Feb 2020</text>
<rect x="706" y="720" width="1" height="3" fill="#000" />
<text x="705.6" y="731.8" font-size="9.9" fill="#000" stroke="#000" stroke-width="0.2" textLength="46.5" lengthAdjust="spacingAndGlyphs">7 Mar 2020</text>
<rect x="770" y="720" width="1" height="3" fill="#000" />
<text x="769.6" y="731.8" font-size="9.9" fill="#000" stroke="#000" stroke-width="0.2" textLength="51.5" lengthAdjust="spacingAndGlyphs">26 Mar 2020</text>
<rect x="834" y="720" width="1" height="3" fill="#000" />
<text x="833.6" y="731.8" font-size="9.9" fill="#000" stroke="#000" stroke-width="0.2" textLength="50.5" lengthAdjust="spacingAndGlyphs">14 Apr 2020</text>
<rect x="898" y="720" width="1" height="3" fill="#000" />
<text x="897.6" y="731.8" font-size="9.9" fill="#000" stroke="#000" stroke-width="0.2" textLength="49" lengthAdjust="spacingAndGlyphs">2 May 2020</text>
<rect x="962" y="720" width="1" height="3" fill="#000" />
<text x="961.6" y="731.8" font-size="9.9" fill="#000" stroke="#000" stroke-width="0.2" textLength="54.5" lengthAdjust="spacingAndGlyphs">21 May 2020</text>
<rect x="1026" y="720" width="1" height="3" fill="#000" />
<text x="1025.6" y="731.8" font-size="9.9" fill="#000" stroke="#000" stroke-width="0.2" textLength="44.5" lengthAdjust="spacingAndGlyphs">9 Jun 2020</text>
<rect x="1090" y="720" width="1" height="3" fill="#000" />
<text x="1089.6" y="731.8" font-size="9.9" fill="#000" stroke="#000" stroke-width="0.2" textLength="49.5" lengthAdjust="spacingAndGlyphs">27 Jun 2020</text>
<rect x="1154" y="720" width="1" height="3" fill="#000" />
<text x="1153.6" y="731.8" font-size="9.9" fill="#000" stroke="#000" stroke-width="0.2" textLength="46.5" lengthAdjust="spacingAndGlyphs">16 Jul 2020</text>
<rect x="1218" y="720" width="1" height="3" fill="#000" />
<text x="1217.6" y="731.8" font-size="9.9" fill="#000" stroke="#000" stroke-width="0.2" textLength="47" lengthAdjust="spacingAndGlyphs">4 Aug 2020</text>
<rect x="0" y="740" width="1635" height="1" fill="#e6e6e6" />
<rect x="0" y="743" width="1635" height="19" fill="#f0f0f0" />
<rect x="0" y="742" width="1635" height="1" fill="#000" />
<rect x="312" y="742" width="102" height="18" fill="#fff" />
<rect x="311" y="742" width="1" height="19" fill="#000" />
<rect x="414" y="742" width="1" height="19" fill="#000" />
<rect x="311" y="760" width="104" height="1" fill="#000" />
<rect x="310" y="743" width="1" height="19" fill="#fbfbfb" />
<rect x="312" y="761" width="103" height="1" fill="#fafafa" />
<rect x="0" y="763" width="1635" height="3" fill="#f0f0f0" />
<rect x="0" y="766" width="1635" height="1" fill="#a2a2a2" />
<text x="55.0" y="756.6" font-size="12" fill="#6d6d6d" text-anchor="middle" >EURUSD,Daily</text>
<text x="156.3" y="756.6" font-size="12" fill="#6d6d6d" text-anchor="middle" >USDCHF,Daily</text>
<text x="259.1" y="756.6" font-size="12" fill="#6d6d6d" text-anchor="middle" >AUDUSD,Daily</text>
<text x="362.6" y="756.6" font-size="12" fill="#000" text-anchor="middle" >USDCAD,Daily</text>
<text x="466.6" y="756.6" font-size="12" fill="#6d6d6d" text-anchor="middle" >USDCNH,Daily</text>
<text x="570.5" y="756.6" font-size="12" fill="#6d6d6d" text-anchor="middle" >EURUSD,Daily</text>
<text x="668.9" y="756.6" font-size="12" fill="#6d6d6d" text-anchor="middle" >GBPUSD,H4</text>
<text x="760.1" y="756.6" font-size="12" fill="#6d6d6d" text-anchor="middle" >XAUUSD,H1</text>
<text x="843.0" y="756.6" font-size="12" fill="#6d6d6d" text-anchor="middle" >HK50,H1</text>
<text x="918.0" y="756.6" font-size="12" fill="#6d6d6d" text-anchor="middle" >UK100,H1</text>
<text x="998.4" y="756.6" font-size="12" fill="#6d6d6d" text-anchor="middle" >UK100,H1</text>
<text x="1078.0" y="756.6" font-size="12" fill="#6d6d6d" text-anchor="middle" >GER30,H1</text>
<text x="1156.7" y="756.6" font-size="12" fill="#6d6d6d" text-anchor="middle" >FRA40,H1</text>
<text x="1230.3" y="756.6" font-size="12" fill="#6d6d6d" text-anchor="middle" >USOil,H4</text>
<text x="1308.3" y="756.6" font-size="12" fill="#6d6d6d" text-anchor="middle" >USDJPY,H1</text>
<text x="1390.8" y="756.6" font-size="12" fill="#6d6d6d" text-anchor="middle" >DJ30,Daily</text>
<text x="1480.2" y="756.6" font-size="12" fill="#6d6d6d" text-anchor="middle" >CHINA300,H1</text>
<text x="1566.3" y="756.6" font-size="12" fill="#6d6d6d" text-anchor="middle" >USOil,H1</text>
<rect x="106" y="746" width="3" height="14" fill="#fafafa" />
<rect x="107" y="746" width="1" height="13" fill="#727272" />
<rect x="206" y="746" width="3" height="14" fill="#fafafa" />
<rect x="207" y="746" width="1" height="13" fill="#727272" />
<rect x="518" y="746" width="3" height="14" fill="#fafafa" />
<rect x="519" y="746" width="1" height="13" fill="#727272" />
<rect x="622" y="746" width="3" height="14" fill="#fafafa" />
<rect x="623" y="746" width="1" height="13" fill="#727272" />
<rect x="714" y="746" width="3" height="14" fill="#fafafa" />
<rect x="715" y="746" width="1" height="13" fill="#727272" />
<rect x="806" y="746" width="3" height="14" fill="#fafafa" />
<rect x="807" y="746" width="1" height="13" fill="#727272" />
<rect x="878" y="746" width="3" height="14" fill="#fafafa" />
<rect x="879" y="746" width="1" height="13" fill="#727272" />
<rect x="958" y="746" width="3" height="14" fill="#fafafa" />
<rect x="959" y="746" width="1" height="13" fill="#727272" />
<rect x="1038" y="746" width="3" height="14" fill="#fafafa" />
<rect x="1039" y="746" width="1" height="13" fill="#727272" />
<rect x="1118" y="746" width="3" height="14" fill="#fafafa" />
<rect x="1119" y="746" width="1" height="13" fill="#727272" />
<rect x="1194" y="746" width="3" height="14" fill="#fafafa" />
<rect x="1195" y="746" width="1" height="13" fill="#727272" />
<rect x="1266" y="746" width="3" height="14" fill="#fafafa" />
<rect x="1267" y="746" width="1" height="13" fill="#727272" />
<rect x="1350" y="746" width="3" height="14" fill="#fafafa" />
<rect x="1351" y="746" width="1" height="13" fill="#727272" />
<rect x="1430" y="746" width="3" height="14" fill="#fafafa" />
<rect x="1431" y="746" width="1" height="13" fill="#727272" />
<rect x="1530" y="746" width="3" height="14" fill="#fafafa" />
<rect x="1531" y="746" width="1" height="13" fill="#727272" />
<rect x="1603" y="746" width="3" height="14" fill="#fafafa" />
<rect x="1604" y="746" width="1" height="13" fill="#727272" />
<path d="M1614 749 L1614 755 L1611 752 Z" fill="#9a9a9a"/>
<path d="M1628 749 L1628 755 L1631 752 Z" fill="#000"/>
</svg>
</body></html>
